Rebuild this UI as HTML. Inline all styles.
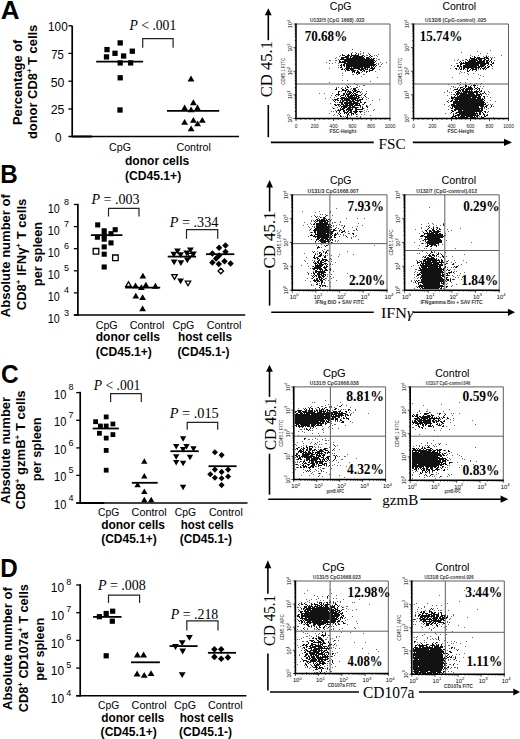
<!DOCTYPE html>
<html><head><meta charset="utf-8"><style>
html,body{margin:0;padding:0;background:#fff;}
svg{display:block;}
</style></head><body>
<svg width="520" height="739" viewBox="0 0 520 739">
<rect width="520" height="739" fill="#fff"/>
<path d="M351 53h1v1h-1zM356 53h1v1h-1zM342 54h1v1h-1zM348 54h1v1h-1zM351 54h1v1h-1zM355 54h1v1h-1zM358 54h1v1h-1zM369 54h1v1h-1zM342 55h3v1h-3zM347 55h3v1h-3zM351 55h8v1h-8zM362 55h2v1h-2zM370 55h1v1h-1zM345 56h4v1h-4zM350 56h2v1h-2zM353 56h10v1h-10zM364 56h1v1h-1zM369 56h1v1h-1zM371 56h1v1h-1zM474 56h1v1h-1zM486 56h1v1h-1zM341 57h8v1h-8zM350 57h1v1h-1zM352 57h12v1h-12zM366 57h3v1h-3zM370 57h1v1h-1zM470 57h1v1h-1zM474 57h2v1h-2zM477 57h3v1h-3zM484 57h4v1h-4zM341 58h3v1h-3zM346 58h19v1h-19zM366 58h4v1h-4zM371 58h1v1h-1zM373 58h2v1h-2zM470 58h5v1h-5zM476 58h9v1h-9zM486 58h3v1h-3zM491 58h1v1h-1zM340 59h34v1h-34zM466 59h1v1h-1zM469 59h1v1h-1zM471 59h6v1h-6zM478 59h4v1h-4zM484 59h2v1h-2zM488 59h1v1h-1zM491 59h1v1h-1zM339 60h1v1h-1zM344 60h31v1h-31zM467 60h1v1h-1zM469 60h9v1h-9zM479 60h3v1h-3zM483 60h2v1h-2zM486 60h3v1h-3zM490 60h1v1h-1zM339 61h2v1h-2zM342 61h32v1h-32zM375 61h1v1h-1zM460 61h1v1h-1zM465 61h1v1h-1zM468 61h8v1h-8zM477 61h8v1h-8zM486 61h2v1h-2zM489 61h1v1h-1zM491 61h1v1h-1zM339 62h7v1h-7zM347 62h28v1h-28zM459 62h1v1h-1zM461 62h1v1h-1zM463 62h1v1h-1zM465 62h20v1h-20zM486 62h3v1h-3zM491 62h1v1h-1zM493 62h1v1h-1zM344 63h30v1h-30zM460 63h29v1h-29zM492 63h2v1h-2zM341 64h1v1h-1zM343 64h2v1h-2zM346 64h30v1h-30zM460 64h2v1h-2zM465 64h14v1h-14zM480 64h6v1h-6zM488 64h1v1h-1zM490 64h2v1h-2zM340 65h2v1h-2zM343 65h2v1h-2zM346 65h29v1h-29zM376 65h1v1h-1zM457 65h2v1h-2zM460 65h1v1h-1zM463 65h16v1h-16zM480 65h5v1h-5zM487 65h1v1h-1zM491 65h1v1h-1zM341 66h1v1h-1zM344 66h1v1h-1zM346 66h24v1h-24zM371 66h1v1h-1zM373 66h1v1h-1zM375 66h1v1h-1zM457 66h2v1h-2zM460 66h2v1h-2zM463 66h14v1h-14zM478 66h6v1h-6zM485 66h1v1h-1zM488 66h2v1h-2zM340 67h2v1h-2zM346 67h4v1h-4zM351 67h1v1h-1zM353 67h10v1h-10zM364 67h6v1h-6zM371 67h2v1h-2zM374 67h1v1h-1zM459 67h1v1h-1zM461 67h1v1h-1zM463 67h17v1h-17zM481 67h1v1h-1zM484 67h2v1h-2zM487 67h2v1h-2zM342 68h1v1h-1zM345 68h15v1h-15zM361 68h5v1h-5zM367 68h1v1h-1zM370 68h5v1h-5zM455 68h2v1h-2zM459 68h1v1h-1zM461 68h1v1h-1zM463 68h2v1h-2zM467 68h2v1h-2zM471 68h3v1h-3zM475 68h2v1h-2zM478 68h1v1h-1zM480 68h1v1h-1zM482 68h3v1h-3zM486 68h1v1h-1zM341 69h2v1h-2zM344 69h1v1h-1zM346 69h3v1h-3zM350 69h4v1h-4zM358 69h6v1h-6zM365 69h3v1h-3zM369 69h1v1h-1zM372 69h2v1h-2zM456 69h1v1h-1zM460 69h2v1h-2zM463 69h1v1h-1zM467 69h1v1h-1zM470 69h1v1h-1zM472 69h5v1h-5zM483 69h1v1h-1zM485 69h1v1h-1zM345 70h1v1h-1zM347 70h3v1h-3zM351 70h5v1h-5zM357 70h1v1h-1zM360 70h2v1h-2zM363 70h2v1h-2zM369 70h4v1h-4zM467 70h1v1h-1zM469 70h1v1h-1zM472 70h1v1h-1zM476 70h1v1h-1zM352 71h3v1h-3zM357 71h2v1h-2zM362 71h1v1h-1zM364 71h1v1h-1zM366 71h2v1h-2zM369 71h1v1h-1zM467 71h2v1h-2zM352 72h1v1h-1zM354 72h1v1h-1zM356 72h4v1h-4zM366 72h1v1h-1zM356 73h1v1h-1zM358 73h2v1h-2zM357 74h1v1h-1zM465 84h1v1h-1zM474 84h1v1h-1zM465 85h2v1h-2zM473 85h3v1h-3zM347 86h1v1h-1zM465 86h2v1h-2zM468 86h1v1h-1zM470 86h1v1h-1zM474 86h1v1h-1zM347 87h2v1h-2zM356 87h1v1h-1zM460 87h3v1h-3zM465 87h1v1h-1zM468 87h4v1h-4zM474 87h1v1h-1zM477 87h1v1h-1zM336 88h1v1h-1zM341 88h1v1h-1zM345 88h1v1h-1zM353 88h3v1h-3zM457 88h1v1h-1zM460 88h1v1h-1zM463 88h2v1h-2zM466 88h7v1h-7zM475 88h2v1h-2zM478 88h2v1h-2zM335 89h2v1h-2zM342 89h2v1h-2zM346 89h2v1h-2zM353 89h3v1h-3zM454 89h4v1h-4zM459 89h1v1h-1zM461 89h3v1h-3zM465 89h8v1h-8zM477 89h1v1h-1zM479 89h1v1h-1zM342 90h5v1h-5zM348 90h1v1h-1zM352 90h1v1h-1zM354 90h3v1h-3zM458 90h3v1h-3zM462 90h2v1h-2zM465 90h3v1h-3zM469 90h1v1h-1zM471 90h1v1h-1zM476 90h1v1h-1zM479 90h1v1h-1zM481 90h1v1h-1zM338 91h2v1h-2zM345 91h1v1h-1zM347 91h4v1h-4zM353 91h3v1h-3zM357 91h3v1h-3zM456 91h3v1h-3zM460 91h1v1h-1zM462 91h11v1h-11zM474 91h5v1h-5zM480 91h2v1h-2zM338 92h1v1h-1zM345 92h1v1h-1zM347 92h1v1h-1zM349 92h3v1h-3zM353 92h1v1h-1zM356 92h2v1h-2zM360 92h1v1h-1zM455 92h1v1h-1zM457 92h3v1h-3zM461 92h1v1h-1zM463 92h15v1h-15zM479 92h1v1h-1zM484 92h1v1h-1zM338 93h1v1h-1zM343 93h2v1h-2zM346 93h1v1h-1zM348 93h3v1h-3zM352 93h1v1h-1zM354 93h2v1h-2zM456 93h11v1h-11zM468 93h6v1h-6zM476 93h2v1h-2zM480 93h1v1h-1zM482 93h2v1h-2zM485 93h1v1h-1zM336 94h4v1h-4zM343 94h2v1h-2zM346 94h4v1h-4zM351 94h1v1h-1zM353 94h1v1h-1zM355 94h3v1h-3zM361 94h1v1h-1zM365 94h1v1h-1zM454 94h1v1h-1zM456 94h3v1h-3zM460 94h15v1h-15zM476 94h6v1h-6zM335 95h1v1h-1zM338 95h1v1h-1zM341 95h3v1h-3zM345 95h1v1h-1zM347 95h2v1h-2zM350 95h7v1h-7zM358 95h3v1h-3zM364 95h1v1h-1zM455 95h1v1h-1zM457 95h1v1h-1zM459 95h21v1h-21zM481 95h1v1h-1zM340 96h1v1h-1zM345 96h1v1h-1zM347 96h6v1h-6zM354 96h1v1h-1zM356 96h3v1h-3zM365 96h1v1h-1zM451 96h1v1h-1zM454 96h1v1h-1zM457 96h20v1h-20zM478 96h3v1h-3zM483 96h2v1h-2zM341 97h4v1h-4zM346 97h1v1h-1zM348 97h9v1h-9zM358 97h2v1h-2zM451 97h20v1h-20zM472 97h9v1h-9zM484 97h1v1h-1zM337 98h2v1h-2zM340 98h19v1h-19zM362 98h1v1h-1zM451 98h3v1h-3zM455 98h21v1h-21zM477 98h4v1h-4zM482 98h1v1h-1zM484 98h1v1h-1zM334 99h4v1h-4zM341 99h2v1h-2zM344 99h6v1h-6zM351 99h5v1h-5zM357 99h1v1h-1zM359 99h4v1h-4zM452 99h1v1h-1zM454 99h30v1h-30zM333 100h1v1h-1zM335 100h1v1h-1zM337 100h2v1h-2zM340 100h1v1h-1zM342 100h9v1h-9zM352 100h2v1h-2zM355 100h6v1h-6zM451 100h2v1h-2zM455 100h3v1h-3zM459 100h24v1h-24zM484 100h1v1h-1zM334 101h1v1h-1zM340 101h1v1h-1zM342 101h2v1h-2zM346 101h2v1h-2zM349 101h6v1h-6zM357 101h2v1h-2zM360 101h1v1h-1zM447 101h1v1h-1zM450 101h2v1h-2zM453 101h31v1h-31zM339 102h4v1h-4zM344 102h8v1h-8zM353 102h5v1h-5zM360 102h2v1h-2zM364 102h2v1h-2zM453 102h32v1h-32zM341 103h2v1h-2zM344 103h16v1h-16zM364 103h1v1h-1zM453 103h31v1h-31zM485 103h1v1h-1zM334 104h2v1h-2zM337 104h3v1h-3zM341 104h3v1h-3zM345 104h3v1h-3zM349 104h5v1h-5zM355 104h3v1h-3zM359 104h1v1h-1zM363 104h1v1h-1zM451 104h4v1h-4zM456 104h30v1h-30zM335 105h2v1h-2zM338 105h1v1h-1zM340 105h1v1h-1zM343 105h10v1h-10zM354 105h7v1h-7zM366 105h1v1h-1zM451 105h33v1h-33zM486 105h2v1h-2zM491 105h1v1h-1zM339 106h1v1h-1zM341 106h7v1h-7zM349 106h2v1h-2zM352 106h3v1h-3zM360 106h1v1h-1zM366 106h2v1h-2zM452 106h27v1h-27zM480 106h4v1h-4zM485 106h2v1h-2zM491 106h1v1h-1zM341 107h1v1h-1zM343 107h4v1h-4zM348 107h10v1h-10zM362 107h1v1h-1zM367 107h1v1h-1zM452 107h1v1h-1zM454 107h25v1h-25zM481 107h2v1h-2zM484 107h1v1h-1zM486 107h1v1h-1zM333 108h1v1h-1zM340 108h1v1h-1zM342 108h3v1h-3zM347 108h4v1h-4zM352 108h1v1h-1zM355 108h2v1h-2zM362 108h2v1h-2zM451 108h2v1h-2zM455 108h28v1h-28zM338 109h1v1h-1zM340 109h4v1h-4zM346 109h7v1h-7zM355 109h8v1h-8zM454 109h26v1h-26zM481 109h2v1h-2zM337 110h4v1h-4zM343 110h2v1h-2zM346 110h1v1h-1zM348 110h4v1h-4zM355 110h2v1h-2zM451 110h2v1h-2zM454 110h2v1h-2zM458 110h4v1h-4zM463 110h20v1h-20zM336 111h1v1h-1zM339 111h1v1h-1zM343 111h2v1h-2zM347 111h2v1h-2zM350 111h2v1h-2zM353 111h5v1h-5zM359 111h3v1h-3zM452 111h2v1h-2zM458 111h24v1h-24zM484 111h2v1h-2zM339 112h1v1h-1zM344 112h4v1h-4zM349 112h3v1h-3zM354 112h3v1h-3zM360 112h1v1h-1zM451 112h1v1h-1zM456 112h19v1h-19zM476 112h1v1h-1zM479 112h2v1h-2zM482 112h1v1h-1zM485 112h1v1h-1zM338 113h1v1h-1zM340 113h1v1h-1zM344 113h1v1h-1zM346 113h1v1h-1zM348 113h1v1h-1zM351 113h3v1h-3zM355 113h1v1h-1zM455 113h2v1h-2zM459 113h19v1h-19zM479 113h2v1h-2zM483 113h1v1h-1zM339 114h1v1h-1zM347 114h2v1h-2zM351 114h1v1h-1zM353 114h1v1h-1zM356 114h1v1h-1zM453 114h1v1h-1zM457 114h19v1h-19zM477 114h1v1h-1zM479 114h2v1h-2zM483 114h2v1h-2zM487 114h1v1h-1zM340 115h1v1h-1zM347 115h1v1h-1zM453 115h1v1h-1zM455 115h5v1h-5zM461 115h18v1h-18zM484 115h1v1h-1zM486 115h2v1h-2zM340 116h2v1h-2zM347 116h1v1h-1zM452 116h4v1h-4zM458 116h1v1h-1zM460 116h5v1h-5zM466 116h7v1h-7zM474 116h1v1h-1zM476 116h2v1h-2zM481 116h1v1h-1zM484 116h2v1h-2zM346 117h2v1h-2zM451 117h2v1h-2zM455 117h2v1h-2zM458 117h10v1h-10zM470 117h6v1h-6zM477 117h1v1h-1zM481 117h3v1h-3zM326 215h1v1h-1zM315 216h1v1h-1zM325 216h1v1h-1zM316 217h1v1h-1zM320 217h1v1h-1zM323 217h2v1h-2zM318 218h1v1h-1zM323 218h3v1h-3zM316 219h2v1h-2zM319 219h1v1h-1zM321 219h4v1h-4zM326 219h1v1h-1zM328 219h2v1h-2zM315 220h1v1h-1zM317 220h11v1h-11zM330 220h1v1h-1zM314 221h1v1h-1zM316 221h2v1h-2zM319 221h7v1h-7zM327 221h2v1h-2zM315 222h1v1h-1zM319 222h4v1h-4zM324 222h4v1h-4zM314 223h1v1h-1zM316 223h12v1h-12zM329 223h1v1h-1zM313 224h2v1h-2zM316 224h15v1h-15zM443 224h1v1h-1zM316 225h11v1h-11zM328 225h2v1h-2zM331 225h1v1h-1zM316 226h15v1h-15zM344 226h1v1h-1zM428 226h1v1h-1zM314 227h1v1h-1zM316 227h16v1h-16zM343 227h1v1h-1zM429 227h1v1h-1zM433 227h1v1h-1zM436 227h2v1h-2zM315 228h15v1h-15zM335 228h1v1h-1zM428 228h1v1h-1zM433 228h1v1h-1zM437 228h1v1h-1zM439 228h1v1h-1zM310 229h1v1h-1zM314 229h18v1h-18zM333 229h2v1h-2zM340 229h1v1h-1zM356 229h1v1h-1zM427 229h1v1h-1zM432 229h2v1h-2zM436 229h1v1h-1zM439 229h2v1h-2zM313 230h18v1h-18zM333 230h3v1h-3zM339 230h1v1h-1zM341 230h1v1h-1zM344 230h1v1h-1zM425 230h2v1h-2zM429 230h2v1h-2zM432 230h3v1h-3zM437 230h2v1h-2zM314 231h2v1h-2zM317 231h17v1h-17zM342 231h3v1h-3zM426 231h1v1h-1zM429 231h3v1h-3zM433 231h7v1h-7zM311 232h1v1h-1zM314 232h2v1h-2zM317 232h16v1h-16zM341 232h2v1h-2zM423 232h1v1h-1zM427 232h1v1h-1zM429 232h1v1h-1zM431 232h8v1h-8zM315 233h1v1h-1zM317 233h9v1h-9zM327 233h6v1h-6zM335 233h1v1h-1zM337 233h1v1h-1zM352 233h2v1h-2zM424 233h10v1h-10zM435 233h3v1h-3zM439 233h2v1h-2zM311 234h1v1h-1zM315 234h14v1h-14zM330 234h2v1h-2zM334 234h3v1h-3zM353 234h1v1h-1zM424 234h1v1h-1zM427 234h16v1h-16zM310 235h3v1h-3zM314 235h1v1h-1zM317 235h14v1h-14zM332 235h1v1h-1zM334 235h2v1h-2zM421 235h3v1h-3zM427 235h16v1h-16zM444 235h1v1h-1zM313 236h16v1h-16zM330 236h2v1h-2zM334 236h1v1h-1zM346 236h1v1h-1zM420 236h3v1h-3zM424 236h20v1h-20zM315 237h1v1h-1zM317 237h15v1h-15zM334 237h2v1h-2zM425 237h18v1h-18zM317 238h3v1h-3zM321 238h7v1h-7zM329 238h2v1h-2zM425 238h1v1h-1zM427 238h13v1h-13zM316 239h3v1h-3zM320 239h4v1h-4zM325 239h5v1h-5zM331 239h2v1h-2zM424 239h17v1h-17zM316 240h1v1h-1zM319 240h7v1h-7zM327 240h2v1h-2zM330 240h1v1h-1zM332 240h1v1h-1zM423 240h1v1h-1zM425 240h1v1h-1zM428 240h14v1h-14zM315 241h1v1h-1zM320 241h10v1h-10zM425 241h1v1h-1zM427 241h15v1h-15zM321 242h5v1h-5zM328 242h1v1h-1zM331 242h1v1h-1zM426 242h16v1h-16zM320 243h1v1h-1zM325 243h1v1h-1zM422 243h1v1h-1zM427 243h12v1h-12zM427 244h1v1h-1zM429 244h7v1h-7zM438 244h1v1h-1zM326 245h2v1h-2zM427 245h2v1h-2zM431 245h2v1h-2zM434 245h3v1h-3zM318 246h1v1h-1zM325 246h1v1h-1zM426 246h2v1h-2zM430 246h2v1h-2zM436 246h1v1h-1zM317 247h3v1h-3zM317 248h1v1h-1zM327 250h1v1h-1zM323 251h1v1h-1zM326 251h1v1h-1zM431 251h1v1h-1zM313 252h1v1h-1zM319 252h2v1h-2zM325 252h2v1h-2zM431 252h2v1h-2zM319 253h1v1h-1zM321 253h1v1h-1zM325 253h1v1h-1zM430 253h1v1h-1zM438 253h1v1h-1zM315 254h1v1h-1zM320 254h2v1h-2zM429 254h1v1h-1zM432 254h2v1h-2zM437 254h2v1h-2zM441 254h1v1h-1zM314 255h1v1h-1zM319 255h3v1h-3zM325 255h1v1h-1zM428 255h3v1h-3zM432 255h3v1h-3zM436 255h1v1h-1zM442 255h1v1h-1zM314 256h1v1h-1zM318 256h3v1h-3zM324 256h2v1h-2zM423 256h1v1h-1zM425 256h1v1h-1zM429 256h3v1h-3zM434 256h1v1h-1zM442 256h2v1h-2zM313 257h2v1h-2zM316 257h2v1h-2zM324 257h2v1h-2zM424 257h2v1h-2zM427 257h2v1h-2zM431 257h3v1h-3zM443 257h1v1h-1zM314 258h2v1h-2zM317 258h2v1h-2zM322 258h1v1h-1zM330 258h1v1h-1zM426 258h9v1h-9zM436 258h1v1h-1zM317 259h1v1h-1zM319 259h1v1h-1zM322 259h5v1h-5zM424 259h13v1h-13zM438 259h1v1h-1zM441 259h1v1h-1zM318 260h2v1h-2zM321 260h3v1h-3zM325 260h3v1h-3zM423 260h3v1h-3zM427 260h13v1h-13zM441 260h2v1h-2zM314 261h1v1h-1zM317 261h2v1h-2zM320 261h2v1h-2zM324 261h2v1h-2zM417 261h1v1h-1zM420 261h2v1h-2zM423 261h8v1h-8zM432 261h5v1h-5zM439 261h1v1h-1zM441 261h2v1h-2zM447 261h1v1h-1zM313 262h1v1h-1zM315 262h1v1h-1zM317 262h2v1h-2zM320 262h4v1h-4zM417 262h3v1h-3zM421 262h1v1h-1zM423 262h1v1h-1zM425 262h19v1h-19zM314 263h3v1h-3zM318 263h4v1h-4zM324 263h3v1h-3zM417 263h1v1h-1zM421 263h11v1h-11zM433 263h6v1h-6zM441 263h1v1h-1zM446 263h1v1h-1zM453 263h1v1h-1zM315 264h1v1h-1zM317 264h1v1h-1zM319 264h5v1h-5zM325 264h1v1h-1zM327 264h1v1h-1zM330 264h1v1h-1zM420 264h1v1h-1zM422 264h2v1h-2zM425 264h18v1h-18zM445 264h1v1h-1zM452 264h2v1h-2zM315 265h8v1h-8zM326 265h1v1h-1zM420 265h18v1h-18zM439 265h4v1h-4zM313 266h1v1h-1zM315 266h7v1h-7zM324 266h1v1h-1zM326 266h2v1h-2zM421 266h20v1h-20zM445 266h1v1h-1zM454 266h1v1h-1zM456 266h2v1h-2zM314 267h7v1h-7zM323 267h4v1h-4zM419 267h1v1h-1zM421 267h6v1h-6zM428 267h10v1h-10zM439 267h2v1h-2zM444 267h2v1h-2zM455 267h2v1h-2zM312 268h10v1h-10zM324 268h2v1h-2zM330 268h1v1h-1zM419 268h2v1h-2zM422 268h20v1h-20zM443 268h2v1h-2zM313 269h2v1h-2zM317 269h1v1h-1zM319 269h4v1h-4zM325 269h2v1h-2zM329 269h2v1h-2zM420 269h24v1h-24zM447 269h1v1h-1zM315 270h2v1h-2zM320 270h1v1h-1zM322 270h1v1h-1zM324 270h4v1h-4zM330 270h1v1h-1zM419 270h23v1h-23zM443 270h1v1h-1zM448 270h2v1h-2zM315 271h10v1h-10zM421 271h22v1h-22zM451 271h1v1h-1zM313 272h1v1h-1zM315 272h2v1h-2zM318 272h8v1h-8zM420 272h24v1h-24zM448 272h4v1h-4zM453 272h1v1h-1zM308 273h1v1h-1zM313 273h2v1h-2zM317 273h3v1h-3zM321 273h3v1h-3zM419 273h1v1h-1zM421 273h20v1h-20zM442 273h1v1h-1zM446 273h2v1h-2zM449 273h1v1h-1zM314 274h1v1h-1zM317 274h5v1h-5zM323 274h3v1h-3zM417 274h4v1h-4zM422 274h19v1h-19zM442 274h3v1h-3zM447 274h1v1h-1zM313 275h1v1h-1zM315 275h2v1h-2zM318 275h2v1h-2zM321 275h3v1h-3zM325 275h1v1h-1zM417 275h2v1h-2zM421 275h23v1h-23zM446 275h3v1h-3zM312 276h1v1h-1zM314 276h1v1h-1zM316 276h1v1h-1zM318 276h3v1h-3zM322 276h3v1h-3zM421 276h20v1h-20zM442 276h3v1h-3zM313 277h1v1h-1zM318 277h4v1h-4zM323 277h1v1h-1zM420 277h22v1h-22zM444 277h1v1h-1zM446 277h2v1h-2zM312 278h1v1h-1zM316 278h2v1h-2zM319 278h1v1h-1zM321 278h2v1h-2zM325 278h1v1h-1zM420 278h1v1h-1zM422 278h21v1h-21zM446 278h1v1h-1zM314 279h1v1h-1zM316 279h2v1h-2zM319 279h3v1h-3zM323 279h2v1h-2zM421 279h24v1h-24zM446 279h3v1h-3zM450 279h1v1h-1zM453 279h1v1h-1zM313 280h6v1h-6zM320 280h3v1h-3zM416 280h1v1h-1zM418 280h1v1h-1zM421 280h23v1h-23zM445 280h1v1h-1zM447 280h2v1h-2zM450 280h1v1h-1zM314 281h2v1h-2zM317 281h3v1h-3zM321 281h2v1h-2zM415 281h1v1h-1zM417 281h1v1h-1zM421 281h24v1h-24zM446 281h1v1h-1zM450 281h1v1h-1zM316 282h1v1h-1zM321 282h2v1h-2zM415 282h1v1h-1zM418 282h22v1h-22zM441 282h1v1h-1zM443 282h2v1h-2zM317 283h1v1h-1zM321 283h1v1h-1zM418 283h1v1h-1zM422 283h18v1h-18zM441 283h4v1h-4zM316 284h2v1h-2zM321 284h1v1h-1zM418 284h1v1h-1zM420 284h1v1h-1zM423 284h17v1h-17zM443 284h1v1h-1zM319 285h2v1h-2zM322 285h4v1h-4zM419 285h24v1h-24zM320 286h1v1h-1zM322 286h1v1h-1zM325 286h1v1h-1zM418 286h26v1h-26zM446 286h2v1h-2zM319 287h1v1h-1zM417 287h1v1h-1zM419 287h1v1h-1zM421 287h2v1h-2zM424 287h16v1h-16zM441 287h1v1h-1zM446 287h1v1h-1zM420 288h1v1h-1zM422 288h17v1h-17zM440 288h2v1h-2zM341 405h1v1h-1zM340 406h1v1h-1zM310 407h1v1h-1zM318 407h1v1h-1zM325 407h1v1h-1zM305 408h1v1h-1zM309 408h1v1h-1zM311 408h2v1h-2zM319 408h1v1h-1zM322 408h1v1h-1zM324 408h1v1h-1zM335 408h2v1h-2zM304 409h1v1h-1zM306 409h1v1h-1zM309 409h1v1h-1zM312 409h1v1h-1zM316 409h1v1h-1zM319 409h1v1h-1zM321 409h3v1h-3zM326 409h2v1h-2zM334 409h2v1h-2zM348 409h2v1h-2zM297 410h5v1h-5zM305 410h2v1h-2zM308 410h5v1h-5zM314 410h1v1h-1zM316 410h2v1h-2zM319 410h3v1h-3zM323 410h1v1h-1zM325 410h1v1h-1zM327 410h3v1h-3zM340 410h1v1h-1zM348 410h1v1h-1zM295 411h2v1h-2zM298 411h3v1h-3zM302 411h5v1h-5zM308 411h5v1h-5zM314 411h2v1h-2zM317 411h1v1h-1zM319 411h7v1h-7zM327 411h1v1h-1zM329 411h2v1h-2zM333 411h4v1h-4zM338 411h3v1h-3zM345 411h2v1h-2zM295 412h1v1h-1zM298 412h4v1h-4zM303 412h12v1h-12zM317 412h5v1h-5zM323 412h2v1h-2zM326 412h12v1h-12zM339 412h1v1h-1zM341 412h2v1h-2zM346 412h1v1h-1zM429 412h1v1h-1zM296 413h2v1h-2zM300 413h3v1h-3zM304 413h1v1h-1zM306 413h27v1h-27zM334 413h12v1h-12zM424 413h5v1h-5zM439 413h2v1h-2zM295 414h15v1h-15zM311 414h26v1h-26zM338 414h5v1h-5zM345 414h3v1h-3zM350 414h1v1h-1zM413 414h1v1h-1zM416 414h2v1h-2zM424 414h3v1h-3zM431 414h1v1h-1zM439 414h1v1h-1zM445 414h1v1h-1zM295 415h29v1h-29zM325 415h7v1h-7zM333 415h1v1h-1zM335 415h9v1h-9zM345 415h1v1h-1zM347 415h2v1h-2zM412 415h1v1h-1zM414 415h1v1h-1zM416 415h2v1h-2zM423 415h1v1h-1zM427 415h3v1h-3zM431 415h3v1h-3zM444 415h1v1h-1zM295 416h45v1h-45zM341 416h1v1h-1zM345 416h1v1h-1zM412 416h2v1h-2zM415 416h3v1h-3zM419 416h2v1h-2zM422 416h9v1h-9zM432 416h1v1h-1zM443 416h1v1h-1zM295 417h35v1h-35zM332 417h4v1h-4zM338 417h2v1h-2zM343 417h1v1h-1zM346 417h1v1h-1zM417 417h2v1h-2zM420 417h10v1h-10zM431 417h2v1h-2zM434 417h1v1h-1zM436 417h1v1h-1zM439 417h1v1h-1zM443 417h2v1h-2zM447 417h1v1h-1zM295 418h39v1h-39zM335 418h3v1h-3zM343 418h2v1h-2zM346 418h3v1h-3zM414 418h6v1h-6zM421 418h7v1h-7zM429 418h11v1h-11zM442 418h1v1h-1zM447 418h2v1h-2zM295 419h29v1h-29zM325 419h1v1h-1zM327 419h3v1h-3zM331 419h3v1h-3zM335 419h3v1h-3zM340 419h1v1h-1zM348 419h1v1h-1zM415 419h3v1h-3zM419 419h3v1h-3zM423 419h3v1h-3zM427 419h4v1h-4zM433 419h2v1h-2zM438 419h1v1h-1zM440 419h1v1h-1zM295 420h30v1h-30zM326 420h1v1h-1zM328 420h2v1h-2zM335 420h1v1h-1zM337 420h1v1h-1zM340 420h2v1h-2zM414 420h2v1h-2zM417 420h14v1h-14zM432 420h2v1h-2zM435 420h2v1h-2zM438 420h2v1h-2zM444 420h1v1h-1zM295 421h24v1h-24zM320 421h5v1h-5zM326 421h3v1h-3zM342 421h2v1h-2zM412 421h1v1h-1zM414 421h3v1h-3zM418 421h4v1h-4zM423 421h8v1h-8zM432 421h3v1h-3zM436 421h3v1h-3zM440 421h2v1h-2zM443 421h2v1h-2zM295 422h26v1h-26zM322 422h2v1h-2zM325 422h1v1h-1zM327 422h3v1h-3zM341 422h3v1h-3zM412 422h6v1h-6zM419 422h12v1h-12zM433 422h2v1h-2zM436 422h1v1h-1zM441 422h2v1h-2zM295 423h29v1h-29zM325 423h2v1h-2zM413 423h1v1h-1zM415 423h8v1h-8zM424 423h8v1h-8zM437 423h1v1h-1zM442 423h2v1h-2zM296 424h3v1h-3zM300 424h10v1h-10zM311 424h5v1h-5zM317 424h2v1h-2zM320 424h2v1h-2zM325 424h1v1h-1zM417 424h2v1h-2zM420 424h1v1h-1zM422 424h2v1h-2zM425 424h2v1h-2zM430 424h1v1h-1zM436 424h2v1h-2zM439 424h1v1h-1zM441 424h1v1h-1zM295 425h2v1h-2zM298 425h2v1h-2zM301 425h9v1h-9zM311 425h4v1h-4zM316 425h6v1h-6zM416 425h1v1h-1zM418 425h1v1h-1zM422 425h2v1h-2zM425 425h1v1h-1zM428 425h3v1h-3zM432 425h1v1h-1zM438 425h3v1h-3zM443 425h1v1h-1zM296 426h1v1h-1zM298 426h6v1h-6zM305 426h1v1h-1zM307 426h3v1h-3zM311 426h3v1h-3zM315 426h1v1h-1zM418 426h2v1h-2zM423 426h1v1h-1zM428 426h4v1h-4zM433 426h1v1h-1zM442 426h2v1h-2zM299 427h1v1h-1zM302 427h1v1h-1zM310 427h1v1h-1zM313 427h1v1h-1zM419 427h1v1h-1zM421 427h2v1h-2zM306 428h1v1h-1zM310 428h1v1h-1zM422 428h1v1h-1zM306 429h2v1h-2zM309 429h1v1h-1zM322 429h1v1h-1zM308 430h1v1h-1zM304 438h2v1h-2zM304 439h1v1h-1zM315 443h1v1h-1zM439 444h1v1h-1zM334 445h1v1h-1zM306 446h1v1h-1zM309 446h4v1h-4zM428 446h1v1h-1zM298 447h1v1h-1zM303 447h1v1h-1zM306 447h2v1h-2zM309 447h1v1h-1zM312 447h1v1h-1zM422 447h1v1h-1zM424 447h1v1h-1zM427 447h3v1h-3zM296 448h2v1h-2zM301 448h1v1h-1zM303 448h2v1h-2zM307 448h1v1h-1zM309 448h3v1h-3zM324 448h3v1h-3zM412 448h3v1h-3zM416 448h1v1h-1zM418 448h1v1h-1zM421 448h2v1h-2zM424 448h2v1h-2zM430 448h2v1h-2zM297 449h1v1h-1zM300 449h1v1h-1zM302 449h2v1h-2zM306 449h2v1h-2zM309 449h3v1h-3zM314 449h2v1h-2zM320 449h2v1h-2zM323 449h3v1h-3zM333 449h1v1h-1zM413 449h3v1h-3zM417 449h1v1h-1zM419 449h2v1h-2zM423 449h1v1h-1zM426 449h5v1h-5zM432 449h1v1h-1zM436 449h2v1h-2zM439 449h3v1h-3zM299 450h3v1h-3zM303 450h1v1h-1zM306 450h2v1h-2zM309 450h2v1h-2zM312 450h3v1h-3zM316 450h1v1h-1zM319 450h4v1h-4zM325 450h3v1h-3zM412 450h15v1h-15zM428 450h4v1h-4zM433 450h3v1h-3zM437 450h4v1h-4zM444 450h1v1h-1zM448 450h1v1h-1zM298 451h6v1h-6zM305 451h1v1h-1zM308 451h2v1h-2zM312 451h1v1h-1zM317 451h7v1h-7zM328 451h1v1h-1zM412 451h1v1h-1zM415 451h2v1h-2zM418 451h13v1h-13zM432 451h3v1h-3zM437 451h1v1h-1zM439 451h1v1h-1zM448 451h2v1h-2zM298 452h1v1h-1zM300 452h2v1h-2zM303 452h4v1h-4zM308 452h3v1h-3zM312 452h2v1h-2zM315 452h5v1h-5zM321 452h1v1h-1zM324 452h2v1h-2zM327 452h3v1h-3zM412 452h7v1h-7zM420 452h18v1h-18zM439 452h2v1h-2zM296 453h2v1h-2zM302 453h2v1h-2zM305 453h8v1h-8zM315 453h1v1h-1zM317 453h6v1h-6zM325 453h1v1h-1zM327 453h1v1h-1zM412 453h28v1h-28zM442 453h1v1h-1zM444 453h2v1h-2zM296 454h2v1h-2zM302 454h8v1h-8zM311 454h4v1h-4zM316 454h2v1h-2zM319 454h1v1h-1zM321 454h1v1h-1zM323 454h2v1h-2zM412 454h29v1h-29zM442 454h2v1h-2zM295 455h2v1h-2zM298 455h2v1h-2zM302 455h7v1h-7zM310 455h3v1h-3zM316 455h5v1h-5zM322 455h3v1h-3zM334 455h1v1h-1zM336 455h1v1h-1zM412 455h30v1h-30zM443 455h2v1h-2zM296 456h2v1h-2zM299 456h1v1h-1zM301 456h14v1h-14zM316 456h1v1h-1zM318 456h3v1h-3zM323 456h1v1h-1zM327 456h3v1h-3zM335 456h1v1h-1zM412 456h26v1h-26zM440 456h2v1h-2zM297 457h1v1h-1zM299 457h2v1h-2zM302 457h1v1h-1zM304 457h8v1h-8zM313 457h6v1h-6zM321 457h3v1h-3zM326 457h3v1h-3zM335 457h1v1h-1zM412 457h28v1h-28zM442 457h1v1h-1zM298 458h3v1h-3zM306 458h4v1h-4zM311 458h9v1h-9zM323 458h1v1h-1zM325 458h1v1h-1zM327 458h2v1h-2zM335 458h1v1h-1zM412 458h34v1h-34zM297 459h2v1h-2zM300 459h2v1h-2zM306 459h4v1h-4zM311 459h7v1h-7zM319 459h2v1h-2zM322 459h3v1h-3zM326 459h1v1h-1zM328 459h1v1h-1zM334 459h1v1h-1zM412 459h26v1h-26zM439 459h5v1h-5zM445 459h2v1h-2zM304 460h1v1h-1zM306 460h2v1h-2zM309 460h8v1h-8zM320 460h1v1h-1zM322 460h1v1h-1zM324 460h1v1h-1zM327 460h1v1h-1zM329 460h1v1h-1zM333 460h1v1h-1zM412 460h29v1h-29zM442 460h4v1h-4zM447 460h1v1h-1zM300 461h1v1h-1zM303 461h2v1h-2zM309 461h1v1h-1zM311 461h3v1h-3zM315 461h9v1h-9zM325 461h2v1h-2zM412 461h29v1h-29zM442 461h4v1h-4zM303 462h1v1h-1zM305 462h1v1h-1zM308 462h2v1h-2zM311 462h3v1h-3zM315 462h3v1h-3zM319 462h4v1h-4zM412 462h31v1h-31zM445 462h1v1h-1zM449 462h3v1h-3zM302 463h1v1h-1zM304 463h3v1h-3zM310 463h5v1h-5zM316 463h2v1h-2zM319 463h4v1h-4zM324 463h3v1h-3zM412 463h28v1h-28zM441 463h1v1h-1zM443 463h3v1h-3zM449 463h1v1h-1zM296 464h2v1h-2zM303 464h1v1h-1zM307 464h3v1h-3zM312 464h3v1h-3zM316 464h1v1h-1zM318 464h1v1h-1zM322 464h3v1h-3zM326 464h1v1h-1zM412 464h5v1h-5zM418 464h26v1h-26zM445 464h2v1h-2zM302 465h2v1h-2zM305 465h1v1h-1zM308 465h1v1h-1zM311 465h4v1h-4zM318 465h4v1h-4zM324 465h1v1h-1zM326 465h1v1h-1zM329 465h1v1h-1zM412 465h27v1h-27zM440 465h2v1h-2zM300 466h1v1h-1zM303 466h4v1h-4zM310 466h4v1h-4zM315 466h1v1h-1zM318 466h1v1h-1zM412 466h12v1h-12zM425 466h12v1h-12zM438 466h1v1h-1zM442 466h2v1h-2zM297 467h1v1h-1zM300 467h2v1h-2zM303 467h2v1h-2zM306 467h1v1h-1zM308 467h3v1h-3zM312 467h2v1h-2zM412 467h2v1h-2zM415 467h3v1h-3zM419 467h3v1h-3zM423 467h1v1h-1zM426 467h3v1h-3zM430 467h3v1h-3zM434 467h2v1h-2zM437 467h2v1h-2zM442 467h1v1h-1zM309 468h1v1h-1zM323 468h1v1h-1zM412 468h2v1h-2zM415 468h2v1h-2zM418 468h1v1h-1zM420 468h1v1h-1zM422 468h3v1h-3zM426 468h2v1h-2zM430 468h3v1h-3zM436 468h2v1h-2zM441 468h1v1h-1zM310 469h1v1h-1zM414 469h3v1h-3zM421 469h1v1h-1zM423 469h2v1h-2zM426 469h4v1h-4zM431 469h2v1h-2zM435 469h4v1h-4zM444 469h1v1h-1zM307 470h1v1h-1zM309 470h1v1h-1zM321 470h1v1h-1zM416 470h1v1h-1zM422 470h3v1h-3zM426 470h1v1h-1zM428 470h2v1h-2zM432 470h3v1h-3zM437 470h1v1h-1zM443 470h2v1h-2zM306 471h1v1h-1zM308 471h1v1h-1zM422 471h1v1h-1zM425 471h1v1h-1zM427 471h1v1h-1zM429 471h1v1h-1zM432 471h1v1h-1zM420 472h1v1h-1zM422 472h1v1h-1zM425 472h2v1h-2zM429 472h1v1h-1zM319 473h1v1h-1zM420 473h2v1h-2zM425 474h1v1h-1zM431 474h2v1h-2zM426 475h1v1h-1zM430 475h1v1h-1zM440 476h1v1h-1zM327 596h1v1h-1zM327 597h1v1h-1zM330 601h1v1h-1zM319 602h3v1h-3zM326 602h2v1h-2zM329 602h2v1h-2zM333 602h1v1h-1zM301 603h1v1h-1zM304 603h1v1h-1zM311 603h1v1h-1zM314 603h1v1h-1zM319 603h1v1h-1zM321 603h1v1h-1zM323 603h1v1h-1zM327 603h1v1h-1zM335 603h1v1h-1zM298 604h1v1h-1zM301 604h2v1h-2zM305 604h2v1h-2zM311 604h2v1h-2zM314 604h4v1h-4zM320 604h2v1h-2zM323 604h1v1h-1zM325 604h5v1h-5zM335 604h2v1h-2zM307 605h1v1h-1zM309 605h1v1h-1zM311 605h1v1h-1zM315 605h1v1h-1zM317 605h3v1h-3zM321 605h2v1h-2zM324 605h4v1h-4zM330 605h1v1h-1zM332 605h1v1h-1zM334 605h1v1h-1zM337 605h1v1h-1zM304 606h3v1h-3zM308 606h5v1h-5zM314 606h4v1h-4zM319 606h3v1h-3zM323 606h1v1h-1zM325 606h3v1h-3zM330 606h5v1h-5zM338 606h1v1h-1zM304 607h3v1h-3zM308 607h3v1h-3zM312 607h3v1h-3zM316 607h13v1h-13zM330 607h5v1h-5zM337 607h1v1h-1zM342 607h1v1h-1zM301 608h1v1h-1zM303 608h2v1h-2zM306 608h26v1h-26zM334 608h2v1h-2zM337 608h1v1h-1zM431 608h1v1h-1zM303 609h1v1h-1zM305 609h6v1h-6zM312 609h22v1h-22zM335 609h3v1h-3zM342 609h1v1h-1zM430 609h1v1h-1zM432 609h1v1h-1zM299 610h1v1h-1zM304 610h2v1h-2zM307 610h21v1h-21zM329 610h7v1h-7zM337 610h3v1h-3zM341 610h1v1h-1zM429 610h1v1h-1zM300 611h3v1h-3zM304 611h5v1h-5zM310 611h19v1h-19zM330 611h4v1h-4zM335 611h3v1h-3zM339 611h2v1h-2zM421 611h1v1h-1zM423 611h2v1h-2zM429 611h3v1h-3zM300 612h2v1h-2zM305 612h32v1h-32zM338 612h2v1h-2zM342 612h1v1h-1zM420 612h2v1h-2zM423 612h2v1h-2zM429 612h1v1h-1zM431 612h2v1h-2zM434 612h2v1h-2zM440 612h2v1h-2zM301 613h38v1h-38zM340 613h3v1h-3zM422 613h2v1h-2zM425 613h3v1h-3zM431 613h4v1h-4zM438 613h1v1h-1zM441 613h1v1h-1zM298 614h2v1h-2zM301 614h2v1h-2zM304 614h29v1h-29zM334 614h6v1h-6zM341 614h1v1h-1zM419 614h2v1h-2zM422 614h1v1h-1zM426 614h1v1h-1zM428 614h4v1h-4zM433 614h6v1h-6zM441 614h1v1h-1zM445 614h1v1h-1zM297 615h2v1h-2zM301 615h39v1h-39zM342 615h2v1h-2zM415 615h1v1h-1zM418 615h2v1h-2zM421 615h9v1h-9zM431 615h4v1h-4zM436 615h3v1h-3zM441 615h5v1h-5zM297 616h3v1h-3zM301 616h38v1h-38zM341 616h1v1h-1zM343 616h1v1h-1zM418 616h1v1h-1zM420 616h15v1h-15zM436 616h3v1h-3zM440 616h3v1h-3zM444 616h2v1h-2zM447 616h1v1h-1zM299 617h1v1h-1zM301 617h2v1h-2zM305 617h30v1h-30zM336 617h2v1h-2zM340 617h3v1h-3zM420 617h3v1h-3zM424 617h2v1h-2zM427 617h2v1h-2zM431 617h1v1h-1zM433 617h5v1h-5zM439 617h2v1h-2zM442 617h3v1h-3zM446 617h2v1h-2zM300 618h7v1h-7zM308 618h29v1h-29zM338 618h1v1h-1zM340 618h1v1h-1zM342 618h1v1h-1zM419 618h2v1h-2zM422 618h3v1h-3zM426 618h2v1h-2zM429 618h2v1h-2zM432 618h6v1h-6zM439 618h8v1h-8zM302 619h1v1h-1zM304 619h34v1h-34zM340 619h1v1h-1zM414 619h1v1h-1zM420 619h12v1h-12zM433 619h4v1h-4zM438 619h1v1h-1zM440 619h4v1h-4zM298 620h1v1h-1zM300 620h2v1h-2zM303 620h1v1h-1zM305 620h17v1h-17zM323 620h5v1h-5zM330 620h6v1h-6zM338 620h2v1h-2zM420 620h2v1h-2zM423 620h3v1h-3zM429 620h1v1h-1zM431 620h11v1h-11zM443 620h2v1h-2zM299 621h1v1h-1zM301 621h2v1h-2zM304 621h1v1h-1zM307 621h4v1h-4zM312 621h24v1h-24zM337 621h3v1h-3zM342 621h1v1h-1zM422 621h10v1h-10zM433 621h8v1h-8zM301 622h2v1h-2zM304 622h1v1h-1zM306 622h29v1h-29zM337 622h1v1h-1zM343 622h1v1h-1zM423 622h1v1h-1zM426 622h1v1h-1zM429 622h2v1h-2zM432 622h2v1h-2zM435 622h1v1h-1zM438 622h6v1h-6zM301 623h1v1h-1zM305 623h1v1h-1zM307 623h1v1h-1zM309 623h2v1h-2zM313 623h13v1h-13zM327 623h1v1h-1zM330 623h1v1h-1zM333 623h1v1h-1zM335 623h1v1h-1zM338 623h1v1h-1zM343 623h2v1h-2zM424 623h1v1h-1zM426 623h4v1h-4zM431 623h2v1h-2zM434 623h2v1h-2zM437 623h1v1h-1zM443 623h2v1h-2zM304 624h1v1h-1zM306 624h3v1h-3zM313 624h3v1h-3zM317 624h7v1h-7zM326 624h5v1h-5zM335 624h1v1h-1zM338 624h2v1h-2zM426 624h3v1h-3zM430 624h2v1h-2zM436 624h1v1h-1zM307 625h2v1h-2zM313 625h2v1h-2zM318 625h3v1h-3zM325 625h1v1h-1zM330 625h1v1h-1zM426 625h3v1h-3zM436 625h2v1h-2zM308 626h2v1h-2zM311 626h1v1h-1zM314 626h1v1h-1zM319 626h1v1h-1zM324 626h1v1h-1zM329 626h1v1h-1zM437 626h1v1h-1zM316 627h1v1h-1zM319 627h2v1h-2zM323 627h2v1h-2zM328 627h1v1h-1zM303 628h1v1h-1zM317 628h1v1h-1zM323 628h1v1h-1zM318 629h1v1h-1zM322 632h1v1h-1zM325 633h1v1h-1zM322 634h1v1h-1zM325 634h1v1h-1zM321 635h5v1h-5zM318 636h1v1h-1zM323 636h1v1h-1zM313 637h1v1h-1zM318 637h3v1h-3zM438 637h1v1h-1zM312 638h2v1h-2zM315 638h2v1h-2zM318 638h4v1h-4zM438 638h1v1h-1zM316 639h1v1h-1zM319 639h4v1h-4zM438 639h1v1h-1zM310 640h4v1h-4zM317 640h2v1h-2zM321 640h3v1h-3zM334 640h1v1h-1zM307 641h1v1h-1zM311 641h2v1h-2zM314 641h1v1h-1zM318 641h3v1h-3zM322 641h2v1h-2zM414 641h2v1h-2zM308 642h1v1h-1zM313 642h9v1h-9zM323 642h2v1h-2zM328 642h1v1h-1zM414 642h1v1h-1zM436 642h1v1h-1zM308 643h1v1h-1zM311 643h2v1h-2zM318 643h1v1h-1zM320 643h1v1h-1zM322 643h4v1h-4zM329 643h1v1h-1zM421 643h1v1h-1zM432 643h1v1h-1zM435 643h1v1h-1zM303 644h2v1h-2zM306 644h2v1h-2zM311 644h5v1h-5zM318 644h1v1h-1zM320 644h3v1h-3zM329 644h3v1h-3zM334 644h1v1h-1zM417 644h1v1h-1zM419 644h1v1h-1zM422 644h1v1h-1zM426 644h2v1h-2zM432 644h2v1h-2zM436 644h1v1h-1zM438 644h1v1h-1zM441 644h1v1h-1zM302 645h2v1h-2zM305 645h2v1h-2zM310 645h3v1h-3zM315 645h6v1h-6zM322 645h1v1h-1zM328 645h3v1h-3zM415 645h2v1h-2zM418 645h9v1h-9zM430 645h5v1h-5zM436 645h3v1h-3zM441 645h1v1h-1zM306 646h2v1h-2zM309 646h2v1h-2zM312 646h10v1h-10zM323 646h4v1h-4zM328 646h1v1h-1zM415 646h1v1h-1zM419 646h5v1h-5zM426 646h2v1h-2zM429 646h1v1h-1zM432 646h1v1h-1zM434 646h5v1h-5zM440 646h3v1h-3zM303 647h2v1h-2zM306 647h1v1h-1zM310 647h6v1h-6zM318 647h5v1h-5zM324 647h1v1h-1zM327 647h1v1h-1zM329 647h1v1h-1zM414 647h4v1h-4zM419 647h2v1h-2zM422 647h11v1h-11zM434 647h9v1h-9zM451 647h2v1h-2zM304 648h1v1h-1zM309 648h3v1h-3zM314 648h16v1h-16zM413 648h1v1h-1zM415 648h26v1h-26zM451 648h1v1h-1zM305 649h2v1h-2zM311 649h1v1h-1zM313 649h7v1h-7zM321 649h1v1h-1zM326 649h1v1h-1zM328 649h1v1h-1zM413 649h16v1h-16zM430 649h12v1h-12zM443 649h2v1h-2zM304 650h1v1h-1zM306 650h2v1h-2zM310 650h7v1h-7zM318 650h5v1h-5zM324 650h3v1h-3zM413 650h30v1h-30zM445 650h1v1h-1zM457 650h1v1h-1zM305 651h1v1h-1zM307 651h4v1h-4zM313 651h7v1h-7zM321 651h1v1h-1zM323 651h2v1h-2zM327 651h1v1h-1zM413 651h31v1h-31zM445 651h1v1h-1zM449 651h2v1h-2zM304 652h2v1h-2zM309 652h10v1h-10zM321 652h3v1h-3zM325 652h4v1h-4zM414 652h1v1h-1zM416 652h28v1h-28zM445 652h1v1h-1zM450 652h2v1h-2zM306 653h2v1h-2zM309 653h6v1h-6zM316 653h7v1h-7zM324 653h1v1h-1zM328 653h1v1h-1zM332 653h2v1h-2zM413 653h29v1h-29zM443 653h2v1h-2zM446 653h2v1h-2zM305 654h3v1h-3zM310 654h7v1h-7zM318 654h7v1h-7zM326 654h1v1h-1zM328 654h1v1h-1zM332 654h1v1h-1zM413 654h30v1h-30zM448 654h1v1h-1zM305 655h2v1h-2zM308 655h1v1h-1zM310 655h2v1h-2zM313 655h1v1h-1zM315 655h4v1h-4zM322 655h1v1h-1zM324 655h2v1h-2zM327 655h1v1h-1zM413 655h30v1h-30zM447 655h1v1h-1zM304 656h2v1h-2zM308 656h2v1h-2zM311 656h4v1h-4zM316 656h3v1h-3zM320 656h1v1h-1zM322 656h7v1h-7zM331 656h1v1h-1zM413 656h1v1h-1zM415 656h28v1h-28zM446 656h1v1h-1zM449 656h1v1h-1zM451 656h1v1h-1zM306 657h2v1h-2zM309 657h1v1h-1zM311 657h4v1h-4zM316 657h12v1h-12zM413 657h30v1h-30zM444 657h1v1h-1zM447 657h2v1h-2zM450 657h2v1h-2zM455 657h1v1h-1zM306 658h2v1h-2zM309 658h2v1h-2zM312 658h4v1h-4zM317 658h6v1h-6zM325 658h1v1h-1zM327 658h2v1h-2zM413 658h34v1h-34zM455 658h1v1h-1zM302 659h1v1h-1zM308 659h2v1h-2zM311 659h6v1h-6zM318 659h10v1h-10zM414 659h4v1h-4zM419 659h25v1h-25zM454 659h1v1h-1zM303 660h4v1h-4zM310 660h7v1h-7zM318 660h2v1h-2zM321 660h2v1h-2zM324 660h2v1h-2zM332 660h1v1h-1zM413 660h32v1h-32zM303 661h1v1h-1zM306 661h3v1h-3zM310 661h6v1h-6zM317 661h7v1h-7zM328 661h1v1h-1zM332 661h1v1h-1zM413 661h30v1h-30zM444 661h2v1h-2zM307 662h1v1h-1zM309 662h2v1h-2zM313 662h1v1h-1zM316 662h1v1h-1zM319 662h2v1h-2zM322 662h3v1h-3zM332 662h1v1h-1zM413 662h31v1h-31zM445 662h1v1h-1zM305 663h1v1h-1zM308 663h1v1h-1zM313 663h1v1h-1zM315 663h1v1h-1zM317 663h1v1h-1zM319 663h7v1h-7zM413 663h34v1h-34zM305 664h2v1h-2zM314 664h1v1h-1zM316 664h4v1h-4zM322 664h2v1h-2zM413 664h30v1h-30zM444 664h2v1h-2zM453 664h1v1h-1zM306 665h1v1h-1zM311 665h1v1h-1zM314 665h5v1h-5zM320 665h1v1h-1zM413 665h30v1h-30zM444 665h1v1h-1zM307 666h1v1h-1zM312 666h1v1h-1zM315 666h2v1h-2zM319 666h1v1h-1zM413 666h5v1h-5zM419 666h25v1h-25zM448 666h1v1h-1zM313 667h5v1h-5zM319 667h4v1h-4zM413 667h30v1h-30zM444 667h2v1h-2zM447 667h2v1h-2zM316 668h1v1h-1zM318 668h3v1h-3zM322 668h2v1h-2zM327 668h1v1h-1zM413 668h30v1h-30zM444 668h3v1h-3zM315 669h3v1h-3zM321 669h1v1h-1zM413 669h29v1h-29zM443 669h1v1h-1zM445 669h1v1h-1zM321 670h1v1h-1zM414 670h28v1h-28zM321 671h1v1h-1zM413 671h6v1h-6zM420 671h8v1h-8zM430 671h11v1h-11zM443 671h2v1h-2zM320 672h1v1h-1zM414 672h12v1h-12zM427 672h9v1h-9zM437 672h5v1h-5zM443 672h1v1h-1zM415 673h3v1h-3zM419 673h2v1h-2zM422 673h10v1h-10zM433 673h5v1h-5zM439 673h1v1h-1zM442 673h1v1h-1z" fill="#000" fill-opacity="0.93"/><path d="M352 49h1v1h-1zM490 50h1v1h-1zM360 51h1v1h-1zM477 51h1v1h-1zM352 52h1v1h-1zM355 52h1v1h-1zM363 52h1v1h-1zM461 52h1v1h-1zM358 53h1v1h-1zM360 53h1v1h-1zM363 53h1v1h-1zM368 53h1v1h-1zM480 53h1v1h-1zM487 53h1v1h-1zM360 54h1v1h-1zM378 54h1v1h-1zM340 55h1v1h-1zM366 55h2v1h-2zM374 55h1v1h-1zM376 55h1v1h-1zM470 55h1v1h-1zM478 55h1v1h-1zM486 55h1v1h-1zM501 55h1v1h-1zM339 56h1v1h-1zM372 56h1v1h-1zM377 56h1v1h-1zM472 56h1v1h-1zM483 56h1v1h-1zM488 56h1v1h-1zM336 57h1v1h-1zM490 57h1v1h-1zM492 57h1v1h-1zM494 57h1v1h-1zM335 58h1v1h-1zM376 58h1v1h-1zM338 59h1v1h-1zM378 59h2v1h-2zM458 59h1v1h-1zM465 59h1v1h-1zM329 60h2v1h-2zM335 60h2v1h-2zM376 60h1v1h-1zM454 60h1v1h-1zM457 60h1v1h-1zM462 60h2v1h-2zM494 60h1v1h-1zM326 62h1v1h-1zM335 62h1v1h-1zM380 62h1v1h-1zM386 62h1v1h-1zM329 63h1v1h-1zM332 63h1v1h-1zM338 63h1v1h-1zM376 63h1v1h-1zM378 63h1v1h-1zM382 63h1v1h-1zM456 63h2v1h-2zM378 64h1v1h-1zM381 64h1v1h-1zM338 65h1v1h-1zM451 65h1v1h-1zM379 66h2v1h-2zM454 66h1v1h-1zM492 66h1v1h-1zM338 67h1v1h-1zM329 68h1v1h-1zM450 68h1v1h-1zM492 68h1v1h-1zM379 69h1v1h-1zM458 69h1v1h-1zM465 69h1v1h-1zM478 69h1v1h-1zM480 69h1v1h-1zM345 71h1v1h-1zM375 71h1v1h-1zM460 71h1v1h-1zM475 71h1v1h-1zM361 72h1v1h-1zM461 72h1v1h-1zM464 72h1v1h-1zM342 73h1v1h-1zM459 73h1v1h-1zM467 73h1v1h-1zM473 73h1v1h-1zM352 74h2v1h-2zM363 74h2v1h-2zM468 74h1v1h-1zM478 74h1v1h-1zM342 75h1v1h-1zM480 75h1v1h-1zM361 76h1v1h-1zM483 76h1v1h-1zM377 77h1v1h-1zM452 77h1v1h-1zM479 78h1v1h-1zM467 79h1v1h-1zM342 80h1v1h-1zM347 80h1v1h-1zM370 81h1v1h-1zM329 82h1v1h-1zM460 82h1v1h-1zM465 82h1v1h-1zM354 83h1v1h-1zM457 83h2v1h-2zM470 83h1v1h-1zM476 83h1v1h-1zM481 83h1v1h-1zM348 84h1v1h-1zM356 84h1v1h-1zM448 84h1v1h-1zM460 84h1v1h-1zM469 84h1v1h-1zM480 84h1v1h-1zM346 85h1v1h-1zM357 85h1v1h-1zM363 85h2v1h-2zM459 85h1v1h-1zM471 85h1v1h-1zM477 85h1v1h-1zM350 86h1v1h-1zM359 86h1v1h-1zM451 86h1v1h-1zM453 86h1v1h-1zM463 86h1v1h-1zM480 86h1v1h-1zM483 86h1v1h-1zM336 87h1v1h-1zM338 87h1v1h-1zM342 87h1v1h-1zM345 87h1v1h-1zM357 87h1v1h-1zM453 87h1v1h-1zM455 87h1v1h-1zM458 87h1v1h-1zM351 88h1v1h-1zM450 88h1v1h-1zM482 88h1v1h-1zM350 89h1v1h-1zM358 89h1v1h-1zM362 89h1v1h-1zM474 89h1v1h-1zM447 90h1v1h-1zM453 90h1v1h-1zM341 91h1v1h-1zM361 91h1v1h-1zM366 91h1v1h-1zM447 91h1v1h-1zM484 91h1v1h-1zM488 91h1v1h-1zM444 92h1v1h-1zM449 92h1v1h-1zM451 92h1v1h-1zM489 92h1v1h-1zM319 93h1v1h-1zM324 93h1v1h-1zM332 93h1v1h-1zM362 93h1v1h-1zM366 93h1v1h-1zM451 94h1v1h-1zM453 94h1v1h-1zM486 94h1v1h-1zM488 94h1v1h-1zM331 95h1v1h-1zM447 95h1v1h-1zM336 96h1v1h-1zM487 96h1v1h-1zM330 97h1v1h-1zM334 97h1v1h-1zM361 97h1v1h-1zM363 97h1v1h-1zM366 97h1v1h-1zM490 97h1v1h-1zM325 98h1v1h-1zM368 98h1v1h-1zM449 98h1v1h-1zM332 99h1v1h-1zM366 99h1v1h-1zM379 99h1v1h-1zM372 100h1v1h-1zM448 100h1v1h-1zM490 100h1v1h-1zM495 101h1v1h-1zM335 102h1v1h-1zM337 102h1v1h-1zM448 102h1v1h-1zM487 102h1v1h-1zM330 103h1v1h-1zM362 104h1v1h-1zM370 104h1v1h-1zM444 104h1v1h-1zM488 104h1v1h-1zM490 104h1v1h-1zM492 104h1v1h-1zM449 105h1v1h-1zM362 106h1v1h-1zM448 106h1v1h-1zM493 106h1v1h-1zM332 107h1v1h-1zM337 107h1v1h-1zM358 107h1v1h-1zM360 107h1v1h-1zM450 107h1v1h-1zM490 107h1v1h-1zM334 108h1v1h-1zM484 108h1v1h-1zM488 108h1v1h-1zM367 109h1v1h-1zM374 109h1v1h-1zM448 109h1v1h-1zM486 109h1v1h-1zM335 110h1v1h-1zM364 110h1v1h-1zM373 110h1v1h-1zM331 111h1v1h-1zM333 111h1v1h-1zM362 111h1v1h-1zM366 111h1v1h-1zM368 111h1v1h-1zM488 111h1v1h-1zM336 112h1v1h-1zM364 112h1v1h-1zM487 112h1v1h-1zM329 113h1v1h-1zM445 113h1v1h-1zM450 113h1v1h-1zM453 113h1v1h-1zM334 114h1v1h-1zM357 114h1v1h-1zM361 114h1v1h-1zM364 114h1v1h-1zM333 115h1v1h-1zM337 115h1v1h-1zM349 115h1v1h-1zM351 115h1v1h-1zM370 115h1v1h-1zM343 116h1v1h-1zM345 116h1v1h-1zM356 116h2v1h-2zM360 116h1v1h-1zM479 116h1v1h-1zM350 117h1v1h-1zM360 117h1v1h-1zM493 117h1v1h-1zM363 205h1v1h-1zM429 207h1v1h-1zM336 208h1v1h-1zM302 211h1v1h-1zM319 211h1v1h-1zM330 211h1v1h-1zM315 212h1v1h-1zM330 212h1v1h-1zM320 214h1v1h-1zM322 214h1v1h-1zM325 214h1v1h-1zM314 215h1v1h-1zM327 215h1v1h-1zM332 215h1v1h-1zM311 216h1v1h-1zM317 216h1v1h-1zM319 216h1v1h-1zM321 217h1v1h-1zM346 218h1v1h-1zM357 218h1v1h-1zM364 218h1v1h-1zM331 219h1v1h-1zM311 220h1v1h-1zM313 220h1v1h-1zM311 221h1v1h-1zM330 221h1v1h-1zM340 221h1v1h-1zM304 222h1v1h-1zM332 222h1v1h-1zM334 222h2v1h-2zM340 222h1v1h-1zM310 223h1v1h-1zM332 223h1v1h-1zM358 223h1v1h-1zM428 223h1v1h-1zM432 223h1v1h-1zM443 223h1v1h-1zM307 224h1v1h-1zM311 224h1v1h-1zM339 224h1v1h-1zM421 224h1v1h-1zM433 224h1v1h-1zM303 225h1v1h-1zM333 225h1v1h-1zM336 225h1v1h-1zM341 225h2v1h-2zM344 225h1v1h-1zM362 225h1v1h-1zM429 225h1v1h-1zM436 225h1v1h-1zM440 225h1v1h-1zM443 225h1v1h-1zM308 226h1v1h-1zM312 226h1v1h-1zM314 226h1v1h-1zM333 226h1v1h-1zM357 226h1v1h-1zM426 226h1v1h-1zM433 226h1v1h-1zM309 227h1v1h-1zM336 227h1v1h-1zM352 227h1v1h-1zM421 227h1v1h-1zM311 228h1v1h-1zM338 228h1v1h-1zM343 228h1v1h-1zM356 228h1v1h-1zM421 228h1v1h-1zM431 228h1v1h-1zM460 228h1v1h-1zM415 229h1v1h-1zM447 229h1v1h-1zM309 230h1v1h-1zM336 230h1v1h-1zM353 230h2v1h-2zM357 230h1v1h-1zM451 230h1v1h-1zM339 231h1v1h-1zM348 231h1v1h-1zM422 231h1v1h-1zM440 231h1v1h-1zM448 231h1v1h-1zM310 232h1v1h-1zM312 232h1v1h-1zM337 232h1v1h-1zM345 232h1v1h-1zM348 233h2v1h-2zM419 233h1v1h-1zM445 233h1v1h-1zM338 234h1v1h-1zM340 234h1v1h-1zM343 234h1v1h-1zM343 235h1v1h-1zM345 235h1v1h-1zM356 235h1v1h-1zM445 235h1v1h-1zM308 236h1v1h-1zM339 236h1v1h-1zM353 236h1v1h-1zM355 236h1v1h-1zM347 237h1v1h-1zM351 237h1v1h-1zM351 238h1v1h-1zM421 238h1v1h-1zM311 239h1v1h-1zM358 239h1v1h-1zM419 239h1v1h-1zM335 240h1v1h-1zM338 240h1v1h-1zM422 240h1v1h-1zM446 240h1v1h-1zM318 241h1v1h-1zM335 241h1v1h-1zM337 241h1v1h-1zM420 241h1v1h-1zM315 242h1v1h-1zM332 242h1v1h-1zM414 242h1v1h-1zM471 242h1v1h-1zM313 243h1v1h-1zM317 243h2v1h-2zM330 243h1v1h-1zM372 243h1v1h-1zM421 243h1v1h-1zM423 243h1v1h-1zM425 243h1v1h-1zM321 244h1v1h-1zM328 244h1v1h-1zM442 244h1v1h-1zM316 245h1v1h-1zM324 245h1v1h-1zM374 245h1v1h-1zM419 245h1v1h-1zM438 245h1v1h-1zM425 246h1v1h-1zM321 247h1v1h-1zM418 248h1v1h-1zM424 248h1v1h-1zM426 248h1v1h-1zM431 248h1v1h-1zM455 248h1v1h-1zM324 249h1v1h-1zM430 249h1v1h-1zM322 250h1v1h-1zM328 250h1v1h-1zM422 250h1v1h-1zM436 250h1v1h-1zM312 251h1v1h-1zM314 251h1v1h-1zM317 251h1v1h-1zM347 251h1v1h-1zM422 251h1v1h-1zM434 251h1v1h-1zM323 252h1v1h-1zM426 252h1v1h-1zM434 252h1v1h-1zM438 252h1v1h-1zM445 252h1v1h-1zM304 253h1v1h-1zM315 253h1v1h-1zM317 253h1v1h-1zM327 253h1v1h-1zM417 253h1v1h-1zM419 253h1v1h-1zM427 253h1v1h-1zM436 253h1v1h-1zM440 253h1v1h-1zM317 254h1v1h-1zM329 254h1v1h-1zM339 254h1v1h-1zM353 254h1v1h-1zM464 254h1v1h-1zM323 255h1v1h-1zM327 255h1v1h-1zM331 255h1v1h-1zM426 255h1v1h-1zM338 256h1v1h-1zM436 256h1v1h-1zM438 256h1v1h-1zM446 256h1v1h-1zM452 256h1v1h-1zM306 257h1v1h-1zM422 257h1v1h-1zM440 257h1v1h-1zM444 258h1v1h-1zM329 259h1v1h-1zM331 259h1v1h-1zM422 259h1v1h-1zM304 260h1v1h-1zM312 260h1v1h-1zM314 260h1v1h-1zM416 260h1v1h-1zM419 260h1v1h-1zM448 260h1v1h-1zM454 260h1v1h-1zM463 260h1v1h-1zM305 261h1v1h-1zM328 261h1v1h-1zM331 261h1v1h-1zM446 261h1v1h-1zM335 262h1v1h-1zM451 262h1v1h-1zM455 262h1v1h-1zM466 262h1v1h-1zM307 263h1v1h-1zM330 263h1v1h-1zM447 263h1v1h-1zM332 264h1v1h-1zM444 264h1v1h-1zM461 264h1v1h-1zM301 265h1v1h-1zM329 265h1v1h-1zM413 265h1v1h-1zM418 265h1v1h-1zM458 265h1v1h-1zM308 266h1v1h-1zM312 266h1v1h-1zM411 266h1v1h-1zM447 267h1v1h-1zM451 267h1v1h-1zM453 267h1v1h-1zM310 268h1v1h-1zM415 269h2v1h-2zM450 269h1v1h-1zM454 269h1v1h-1zM418 270h1v1h-1zM446 270h1v1h-1zM313 271h1v1h-1zM333 271h1v1h-1zM415 271h1v1h-1zM454 271h1v1h-1zM456 271h1v1h-1zM307 272h1v1h-1zM329 272h1v1h-1zM414 272h1v1h-1zM417 272h1v1h-1zM464 272h1v1h-1zM311 273h1v1h-1zM347 273h1v1h-1zM454 273h1v1h-1zM460 273h1v1h-1zM308 274h1v1h-1zM327 274h1v1h-1zM331 274h1v1h-1zM414 274h1v1h-1zM311 275h1v1h-1zM449 275h1v1h-1zM452 275h1v1h-1zM457 275h1v1h-1zM459 275h1v1h-1zM327 276h1v1h-1zM330 276h1v1h-1zM416 276h1v1h-1zM453 276h1v1h-1zM333 277h1v1h-1zM350 277h1v1h-1zM355 277h1v1h-1zM414 277h1v1h-1zM418 277h1v1h-1zM455 277h1v1h-1zM458 277h1v1h-1zM462 277h1v1h-1zM307 278h1v1h-1zM311 278h1v1h-1zM326 278h1v1h-1zM331 278h1v1h-1zM417 278h1v1h-1zM450 278h1v1h-1zM452 279h1v1h-1zM454 279h1v1h-1zM461 279h1v1h-1zM305 280h1v1h-1zM325 280h1v1h-1zM328 280h1v1h-1zM336 280h1v1h-1zM411 280h1v1h-1zM414 280h1v1h-1zM419 280h1v1h-1zM310 281h1v1h-1zM411 281h1v1h-1zM324 282h1v1h-1zM330 282h1v1h-1zM413 282h1v1h-1zM451 282h1v1h-1zM319 283h1v1h-1zM324 283h1v1h-1zM416 283h1v1h-1zM447 283h1v1h-1zM311 284h1v1h-1zM329 284h1v1h-1zM446 284h1v1h-1zM456 284h1v1h-1zM311 285h1v1h-1zM313 285h1v1h-1zM452 285h1v1h-1zM327 286h1v1h-1zM330 286h1v1h-1zM416 286h1v1h-1zM451 286h1v1h-1zM315 288h1v1h-1zM320 288h1v1h-1zM414 288h1v1h-1zM443 288h1v1h-1zM359 398h1v1h-1zM347 399h1v1h-1zM325 400h1v1h-1zM471 400h1v1h-1zM312 402h1v1h-1zM314 402h1v1h-1zM340 402h1v1h-1zM459 402h1v1h-1zM412 403h1v1h-1zM328 404h1v1h-1zM342 404h1v1h-1zM441 404h1v1h-1zM325 405h1v1h-1zM337 405h1v1h-1zM346 405h1v1h-1zM423 405h1v1h-1zM311 406h1v1h-1zM321 406h2v1h-2zM329 406h1v1h-1zM331 406h1v1h-1zM339 406h1v1h-1zM308 407h1v1h-1zM317 407h1v1h-1zM326 407h1v1h-1zM329 407h1v1h-1zM331 407h1v1h-1zM334 407h1v1h-1zM350 407h1v1h-1zM298 408h1v1h-1zM303 408h1v1h-1zM315 408h1v1h-1zM338 409h1v1h-1zM341 409h1v1h-1zM343 409h1v1h-1zM345 409h1v1h-1zM355 409h1v1h-1zM427 409h1v1h-1zM449 409h1v1h-1zM332 410h1v1h-1zM350 410h1v1h-1zM355 410h1v1h-1zM419 410h1v1h-1zM419 411h1v1h-1zM426 411h2v1h-2zM443 411h1v1h-1zM349 412h1v1h-1zM353 412h1v1h-1zM417 412h1v1h-1zM430 412h1v1h-1zM351 413h1v1h-1zM368 413h1v1h-1zM420 413h1v1h-1zM437 413h1v1h-1zM444 413h1v1h-1zM451 413h1v1h-1zM453 413h1v1h-1zM459 413h1v1h-1zM350 415h1v1h-1zM452 415h1v1h-1zM438 416h1v1h-1zM441 417h1v1h-1zM341 418h1v1h-1zM453 418h1v1h-1zM446 419h1v1h-1zM450 419h1v1h-1zM412 420h1v1h-1zM453 420h1v1h-1zM472 420h1v1h-1zM331 421h1v1h-1zM335 421h1v1h-1zM337 421h1v1h-1zM339 421h1v1h-1zM350 421h1v1h-1zM352 422h1v1h-1zM450 422h1v1h-1zM331 423h1v1h-1zM439 423h1v1h-1zM330 424h1v1h-1zM334 424h2v1h-2zM412 424h1v1h-1zM475 424h1v1h-1zM332 425h1v1h-1zM345 425h1v1h-1zM415 425h1v1h-1zM454 425h1v1h-1zM322 426h1v1h-1zM329 426h1v1h-1zM446 426h1v1h-1zM328 427h1v1h-1zM412 427h2v1h-2zM433 427h1v1h-1zM304 428h1v1h-1zM312 428h1v1h-1zM316 428h1v1h-1zM323 428h1v1h-1zM332 428h1v1h-1zM338 428h1v1h-1zM425 428h1v1h-1zM441 428h1v1h-1zM300 429h2v1h-2zM304 429h1v1h-1zM415 429h1v1h-1zM449 429h1v1h-1zM310 430h1v1h-1zM312 430h1v1h-1zM323 430h1v1h-1zM434 430h1v1h-1zM440 430h1v1h-1zM298 431h1v1h-1zM302 431h1v1h-1zM304 432h1v1h-1zM323 432h1v1h-1zM312 433h1v1h-1zM318 433h1v1h-1zM419 434h1v1h-1zM298 435h1v1h-1zM319 435h1v1h-1zM433 436h1v1h-1zM437 436h1v1h-1zM315 438h1v1h-1zM325 438h1v1h-1zM308 439h2v1h-2zM312 439h1v1h-1zM317 439h1v1h-1zM322 439h1v1h-1zM325 440h2v1h-2zM328 440h1v1h-1zM433 440h1v1h-1zM302 441h1v1h-1zM319 441h1v1h-1zM297 442h1v1h-1zM311 442h1v1h-1zM317 442h1v1h-1zM333 442h1v1h-1zM427 442h1v1h-1zM303 443h1v1h-1zM310 443h1v1h-1zM325 443h2v1h-2zM421 443h1v1h-1zM427 443h1v1h-1zM431 443h1v1h-1zM438 443h1v1h-1zM440 443h1v1h-1zM295 444h1v1h-1zM314 444h1v1h-1zM316 444h1v1h-1zM319 444h1v1h-1zM321 444h1v1h-1zM330 444h1v1h-1zM333 444h1v1h-1zM435 444h1v1h-1zM446 444h1v1h-1zM296 445h1v1h-1zM303 445h1v1h-1zM306 445h1v1h-1zM337 445h1v1h-1zM416 445h1v1h-1zM419 445h1v1h-1zM425 445h1v1h-1zM427 445h1v1h-1zM429 445h1v1h-1zM433 445h1v1h-1zM301 446h1v1h-1zM314 446h1v1h-1zM318 446h1v1h-1zM335 446h1v1h-1zM413 446h1v1h-1zM419 446h1v1h-1zM422 446h1v1h-1zM434 446h1v1h-1zM436 446h1v1h-1zM299 447h1v1h-1zM315 447h1v1h-1zM318 447h1v1h-1zM320 447h1v1h-1zM329 447h1v1h-1zM475 447h1v1h-1zM327 448h1v1h-1zM334 448h1v1h-1zM295 449h1v1h-1zM318 449h1v1h-1zM339 449h1v1h-1zM332 450h1v1h-1zM334 450h1v1h-1zM443 450h1v1h-1zM445 450h1v1h-1zM330 452h1v1h-1zM446 452h1v1h-1zM451 452h1v1h-1zM332 453h1v1h-1zM334 453h1v1h-1zM449 453h1v1h-1zM330 454h1v1h-1zM347 454h1v1h-1zM447 454h1v1h-1zM457 454h1v1h-1zM333 455h1v1h-1zM446 455h1v1h-1zM452 455h1v1h-1zM459 455h1v1h-1zM337 456h1v1h-1zM339 456h1v1h-1zM344 456h2v1h-2zM461 456h1v1h-1zM295 457h1v1h-1zM447 457h1v1h-1zM356 458h1v1h-1zM449 458h1v1h-1zM462 458h1v1h-1zM296 459h1v1h-1zM304 459h1v1h-1zM330 459h1v1h-1zM341 459h2v1h-2zM450 459h1v1h-1zM464 459h1v1h-1zM336 460h1v1h-1zM448 460h1v1h-1zM470 460h1v1h-1zM297 461h1v1h-1zM301 461h1v1h-1zM332 461h1v1h-1zM470 461h1v1h-1zM476 461h1v1h-1zM295 462h1v1h-1zM297 462h1v1h-1zM299 462h1v1h-1zM329 462h1v1h-1zM338 462h1v1h-1zM349 462h1v1h-1zM452 462h1v1h-1zM457 462h1v1h-1zM295 464h1v1h-1zM300 464h1v1h-1zM330 464h1v1h-1zM334 464h1v1h-1zM473 464h1v1h-1zM298 465h1v1h-1zM332 465h1v1h-1zM337 465h1v1h-1zM340 465h1v1h-1zM447 465h1v1h-1zM449 465h1v1h-1zM461 465h1v1h-1zM466 465h1v1h-1zM316 466h1v1h-1zM326 466h1v1h-1zM328 466h1v1h-1zM346 466h1v1h-1zM296 467h1v1h-1zM298 467h1v1h-1zM320 467h1v1h-1zM440 467h1v1h-1zM445 467h1v1h-1zM447 467h1v1h-1zM459 467h1v1h-1zM318 468h1v1h-1zM322 468h1v1h-1zM324 468h1v1h-1zM331 468h1v1h-1zM295 469h1v1h-1zM303 469h1v1h-1zM315 469h1v1h-1zM320 469h1v1h-1zM418 469h1v1h-1zM439 469h1v1h-1zM447 469h1v1h-1zM305 470h1v1h-1zM316 470h1v1h-1zM412 470h1v1h-1zM310 471h1v1h-1zM314 471h1v1h-1zM318 471h1v1h-1zM321 471h1v1h-1zM323 471h1v1h-1zM415 471h1v1h-1zM417 471h1v1h-1zM303 472h1v1h-1zM312 472h1v1h-1zM326 472h1v1h-1zM413 472h1v1h-1zM432 472h1v1h-1zM436 472h1v1h-1zM311 473h1v1h-1zM318 473h1v1h-1zM320 473h1v1h-1zM429 473h1v1h-1zM438 473h1v1h-1zM313 474h1v1h-1zM329 474h1v1h-1zM412 474h1v1h-1zM419 474h1v1h-1zM433 474h1v1h-1zM436 474h1v1h-1zM448 474h1v1h-1zM451 474h1v1h-1zM301 475h1v1h-1zM309 475h1v1h-1zM319 475h1v1h-1zM339 475h1v1h-1zM412 475h1v1h-1zM424 475h1v1h-1zM449 475h1v1h-1zM318 476h1v1h-1zM322 476h1v1h-1zM419 476h1v1h-1zM427 476h1v1h-1zM429 476h1v1h-1zM432 476h1v1h-1zM434 476h1v1h-1zM441 476h1v1h-1zM447 476h1v1h-1zM344 477h1v1h-1zM424 477h1v1h-1zM439 477h1v1h-1zM299 478h1v1h-1zM412 478h1v1h-1zM435 478h1v1h-1zM330 589h1v1h-1zM307 590h1v1h-1zM464 590h1v1h-1zM474 590h1v1h-1zM474 591h1v1h-1zM304 593h1v1h-1zM331 593h1v1h-1zM372 594h1v1h-1zM314 595h1v1h-1zM328 595h1v1h-1zM336 595h1v1h-1zM355 595h1v1h-1zM439 595h1v1h-1zM317 596h1v1h-1zM322 596h1v1h-1zM355 597h1v1h-1zM318 598h1v1h-1zM327 598h1v1h-1zM333 598h1v1h-1zM336 598h1v1h-1zM306 599h1v1h-1zM311 599h1v1h-1zM316 599h1v1h-1zM343 599h1v1h-1zM359 599h1v1h-1zM309 600h1v1h-1zM320 600h1v1h-1zM323 600h1v1h-1zM329 600h1v1h-1zM307 601h1v1h-1zM317 601h1v1h-1zM333 601h1v1h-1zM337 601h1v1h-1zM340 601h1v1h-1zM459 601h1v1h-1zM301 602h1v1h-1zM305 602h1v1h-1zM309 602h1v1h-1zM317 602h1v1h-1zM324 602h1v1h-1zM335 602h1v1h-1zM340 602h1v1h-1zM352 602h1v1h-1zM354 602h1v1h-1zM299 603h1v1h-1zM333 603h1v1h-1zM416 603h1v1h-1zM427 603h1v1h-1zM447 603h1v1h-1zM369 604h1v1h-1zM414 604h1v1h-1zM299 605h1v1h-1zM339 605h1v1h-1zM432 605h1v1h-1zM436 605h1v1h-1zM441 605h1v1h-1zM341 606h1v1h-1zM346 606h2v1h-2zM424 606h1v1h-1zM297 607h2v1h-2zM300 607h1v1h-1zM343 607h1v1h-1zM418 607h1v1h-1zM424 607h1v1h-1zM346 608h1v1h-1zM421 608h1v1h-1zM433 608h1v1h-1zM437 608h1v1h-1zM298 609h1v1h-1zM301 609h1v1h-1zM343 609h1v1h-1zM348 609h1v1h-1zM356 609h1v1h-1zM417 609h1v1h-1zM477 609h1v1h-1zM352 610h1v1h-1zM425 610h1v1h-1zM434 610h1v1h-1zM438 610h1v1h-1zM440 610h2v1h-2zM448 610h1v1h-1zM298 611h1v1h-1zM346 611h1v1h-1zM417 611h1v1h-1zM415 612h1v1h-1zM438 612h1v1h-1zM418 613h1v1h-1zM415 614h1v1h-1zM453 614h1v1h-1zM447 615h1v1h-1zM453 615h1v1h-1zM352 616h1v1h-1zM415 616h1v1h-1zM451 616h1v1h-1zM345 617h1v1h-1zM467 617h1v1h-1zM344 618h1v1h-1zM417 618h1v1h-1zM450 618h1v1h-1zM297 619h1v1h-1zM347 619h1v1h-1zM413 619h1v1h-1zM415 619h1v1h-1zM449 619h1v1h-1zM345 620h1v1h-1zM341 621h1v1h-1zM356 621h1v1h-1zM413 621h1v1h-1zM416 621h1v1h-1zM419 621h1v1h-1zM447 621h1v1h-1zM447 622h1v1h-1zM449 622h1v1h-1zM299 623h1v1h-1zM345 623h1v1h-1zM357 623h1v1h-1zM421 623h1v1h-1zM303 624h1v1h-1zM332 624h1v1h-1zM347 624h1v1h-1zM413 624h1v1h-1zM415 624h1v1h-1zM423 624h1v1h-1zM439 624h1v1h-1zM442 624h1v1h-1zM448 624h1v1h-1zM311 625h1v1h-1zM336 625h1v1h-1zM432 625h1v1h-1zM458 625h1v1h-1zM297 626h2v1h-2zM316 626h1v1h-1zM326 626h1v1h-1zM331 626h1v1h-1zM333 626h1v1h-1zM421 626h1v1h-1zM425 626h1v1h-1zM441 626h1v1h-1zM446 626h1v1h-1zM304 627h1v1h-1zM311 627h1v1h-1zM354 627h1v1h-1zM422 627h1v1h-1zM434 627h1v1h-1zM444 627h1v1h-1zM464 627h1v1h-1zM307 628h1v1h-1zM314 628h1v1h-1zM327 628h1v1h-1zM333 628h1v1h-1zM342 628h1v1h-1zM355 628h1v1h-1zM429 628h1v1h-1zM433 628h1v1h-1zM297 629h1v1h-1zM304 629h1v1h-1zM307 629h1v1h-1zM314 629h1v1h-1zM316 629h1v1h-1zM319 629h1v1h-1zM324 629h1v1h-1zM331 629h1v1h-1zM333 629h1v1h-1zM339 629h1v1h-1zM431 629h1v1h-1zM446 629h1v1h-1zM301 630h1v1h-1zM329 630h1v1h-1zM431 630h1v1h-1zM306 631h1v1h-1zM312 631h1v1h-1zM316 631h1v1h-1zM321 631h1v1h-1zM323 631h1v1h-1zM452 631h1v1h-1zM303 632h1v1h-1zM325 632h1v1h-1zM341 632h1v1h-1zM350 632h1v1h-1zM305 633h1v1h-1zM307 633h1v1h-1zM315 633h1v1h-1zM319 633h1v1h-1zM363 633h1v1h-1zM435 633h1v1h-1zM318 634h1v1h-1zM424 634h1v1h-1zM436 634h1v1h-1zM440 634h1v1h-1zM446 634h1v1h-1zM309 635h1v1h-1zM316 635h1v1h-1zM328 635h2v1h-2zM422 635h1v1h-1zM306 636h2v1h-2zM311 636h1v1h-1zM316 636h1v1h-1zM336 636h1v1h-1zM339 636h1v1h-1zM417 636h1v1h-1zM430 636h1v1h-1zM438 636h1v1h-1zM303 637h1v1h-1zM327 637h1v1h-1zM336 637h1v1h-1zM414 637h1v1h-1zM416 637h1v1h-1zM427 637h1v1h-1zM472 637h1v1h-1zM301 638h1v1h-1zM309 638h1v1h-1zM330 638h1v1h-1zM332 638h1v1h-1zM427 638h1v1h-1zM432 638h1v1h-1zM435 638h1v1h-1zM445 638h1v1h-1zM297 639h1v1h-1zM299 639h1v1h-1zM325 639h2v1h-2zM330 639h1v1h-1zM416 639h1v1h-1zM430 639h1v1h-1zM433 639h1v1h-1zM436 639h1v1h-1zM309 640h1v1h-1zM335 640h1v1h-1zM338 640h1v1h-1zM424 640h1v1h-1zM439 640h1v1h-1zM444 640h1v1h-1zM302 641h2v1h-2zM306 641h1v1h-1zM328 641h1v1h-1zM333 641h1v1h-1zM451 641h1v1h-1zM454 641h1v1h-1zM466 641h1v1h-1zM330 642h1v1h-1zM354 642h1v1h-1zM365 642h1v1h-1zM417 642h1v1h-1zM420 642h1v1h-1zM424 642h1v1h-1zM426 642h1v1h-1zM433 642h1v1h-1zM437 642h1v1h-1zM447 642h1v1h-1zM456 642h1v1h-1zM335 643h1v1h-1zM442 643h1v1h-1zM451 643h1v1h-1zM453 643h1v1h-1zM460 643h1v1h-1zM428 644h1v1h-1zM297 645h1v1h-1zM333 645h1v1h-1zM336 645h1v1h-1zM448 645h2v1h-2zM300 646h1v1h-1zM444 646h1v1h-1zM465 646h1v1h-1zM298 647h1v1h-1zM331 647h1v1h-1zM333 647h1v1h-1zM454 647h1v1h-1zM302 648h1v1h-1zM308 648h1v1h-1zM331 648h1v1h-1zM335 648h1v1h-1zM339 648h1v1h-1zM362 648h1v1h-1zM445 648h1v1h-1zM449 648h1v1h-1zM454 648h1v1h-1zM376 649h1v1h-1zM456 649h1v1h-1zM458 649h1v1h-1zM301 650h1v1h-1zM330 650h1v1h-1zM447 650h1v1h-1zM332 651h1v1h-1zM378 651h1v1h-1zM337 652h1v1h-1zM302 653h1v1h-1zM330 653h1v1h-1zM335 653h1v1h-1zM368 653h1v1h-1zM464 653h1v1h-1zM299 654h1v1h-1zM330 654h1v1h-1zM456 654h1v1h-1zM459 654h1v1h-1zM299 655h1v1h-1zM334 655h1v1h-1zM452 655h1v1h-1zM330 656h1v1h-1zM332 656h1v1h-1zM350 656h1v1h-1zM455 656h1v1h-1zM371 657h1v1h-1zM453 657h1v1h-1zM463 657h1v1h-1zM301 658h1v1h-1zM331 659h1v1h-1zM448 659h1v1h-1zM450 659h1v1h-1zM453 659h1v1h-1zM329 660h1v1h-1zM448 660h1v1h-1zM456 660h1v1h-1zM300 661h1v1h-1zM327 661h1v1h-1zM339 661h1v1h-1zM357 661h1v1h-1zM459 661h1v1h-1zM479 662h1v1h-1zM327 663h1v1h-1zM329 663h1v1h-1zM333 663h1v1h-1zM454 663h1v1h-1zM297 664h1v1h-1zM310 664h1v1h-1zM331 664h1v1h-1zM449 664h2v1h-2zM457 664h1v1h-1zM304 665h1v1h-1zM327 665h1v1h-1zM446 665h1v1h-1zM453 665h1v1h-1zM324 666h1v1h-1zM335 666h1v1h-1zM305 667h1v1h-1zM307 667h1v1h-1zM310 667h1v1h-1zM327 667h1v1h-1zM332 667h1v1h-1zM451 667h1v1h-1zM454 667h2v1h-2zM457 667h1v1h-1zM309 668h1v1h-1zM325 668h1v1h-1zM450 668h1v1h-1zM457 668h1v1h-1zM327 669h1v1h-1zM329 669h1v1h-1zM447 669h1v1h-1zM313 670h1v1h-1zM319 671h1v1h-1zM326 671h1v1h-1zM330 671h2v1h-2zM448 671h1v1h-1zM451 671h1v1h-1zM306 672h1v1h-1zM314 672h1v1h-1zM316 672h2v1h-2zM324 672h1v1h-1zM453 672h1v1h-1zM413 673h1v1h-1zM445 673h1v1h-1z" fill="#000" fill-opacity="0.6"/>
<text x="0.80" y="18.60" font-family="'Liberation Sans', sans-serif" font-size="26" font-weight="bold">A</text>
<text transform="translate(22.10,82.30) rotate(-90)" font-family="'Liberation Sans', sans-serif" font-size="13" font-weight="bold" text-anchor="middle" textLength="85.40" lengthAdjust="spacingAndGlyphs">Percentage of</text>
<text transform="translate(37.00,81.90) rotate(-90)" font-family="'Liberation Sans', sans-serif" font-size="13" font-weight="bold" text-anchor="middle" textLength="114.30" lengthAdjust="spacingAndGlyphs">donor CD8<tspan font-size="8" dy="-5">+</tspan><tspan dy="5"> T cells</tspan></text>
<line x1="72.20" y1="25.60" x2="72.20" y2="137.20" stroke="#000" stroke-width="1.7"/>
<line x1="68.40" y1="136.50" x2="239.00" y2="136.50" stroke="#000" stroke-width="1.3"/>
<line x1="72.20" y1="136.50" x2="92.00" y2="136.50" stroke="#000" stroke-width="2.0"/>
<line x1="68.40" y1="25.80" x2="72.20" y2="25.80" stroke="#000" stroke-width="1.3"/>
<line x1="68.40" y1="53.40" x2="72.20" y2="53.40" stroke="#000" stroke-width="1.3"/>
<line x1="68.40" y1="81.20" x2="72.20" y2="81.20" stroke="#000" stroke-width="1.3"/>
<line x1="68.40" y1="109.00" x2="72.20" y2="109.00" stroke="#000" stroke-width="1.3"/>
<text x="48.10" y="30.90" font-family="'Liberation Sans', sans-serif" font-size="13" textLength="19.60" lengthAdjust="spacingAndGlyphs">100</text>
<text x="51.20" y="58.55" font-family="'Liberation Sans', sans-serif" font-size="13" textLength="12.60" lengthAdjust="spacingAndGlyphs">75</text>
<text x="50.70" y="86.80" font-family="'Liberation Sans', sans-serif" font-size="13" textLength="13.70" lengthAdjust="spacingAndGlyphs">50</text>
<text x="50.70" y="114.10" font-family="'Liberation Sans', sans-serif" font-size="13" textLength="13.70" lengthAdjust="spacingAndGlyphs">25</text>
<text x="55.00" y="141.90" font-family="'Liberation Sans', sans-serif" font-size="13" textLength="6.50" lengthAdjust="spacingAndGlyphs">0</text>
<path d="M117.55 40.25h5.30v5.30h-5.30z" fill="#000"/>
<path d="M104.35 46.95h5.30v5.30h-5.30z" fill="#000"/>
<path d="M112.35 50.65h5.30v5.30h-5.30z" fill="#000"/>
<path d="M129.65 48.55h5.30v5.30h-5.30z" fill="#000"/>
<path d="M103.85 54.25h5.30v5.30h-5.30z" fill="#000"/>
<path d="M120.95 53.35h5.30v5.30h-5.30z" fill="#000"/>
<path d="M117.55 60.25h5.30v5.30h-5.30z" fill="#000"/>
<path d="M127.95 60.25h5.30v5.30h-5.30z" fill="#000"/>
<path d="M117.55 75.15h5.30v5.30h-5.30z" fill="#000"/>
<path d="M117.35 107.35h5.30v5.30h-5.30z" fill="#000"/>
<line x1="96.20" y1="61.70" x2="143.10" y2="61.70" stroke="#000" stroke-width="1.8"/>
<path d="M191.00 75.50L194.41 81.39L187.59 81.39z" fill="#000"/>
<path d="M193.40 99.30L196.81 105.19L189.99 105.19z" fill="#000"/>
<path d="M184.60 104.60L188.01 110.49L181.19 110.49z" fill="#000"/>
<path d="M191.10 106.40L194.51 112.29L187.69 112.29z" fill="#000"/>
<path d="M197.50 104.60L200.91 110.49L194.09 110.49z" fill="#000"/>
<path d="M184.60 118.90L188.01 124.79L181.19 124.79z" fill="#000"/>
<path d="M193.40 116.90L196.81 122.79L189.99 122.79z" fill="#000"/>
<path d="M202.30 116.90L205.71 122.79L198.89 122.79z" fill="#000"/>
<path d="M197.60 120.40L201.01 126.29L194.19 126.29z" fill="#000"/>
<path d="M191.10 125.40L194.51 131.29L187.69 131.29z" fill="#000"/>
<line x1="167.00" y1="110.90" x2="219.20" y2="110.90" stroke="#000" stroke-width="1.8"/>
<text x="129.50" y="30.40" font-family="'Liberation Serif', serif" font-size="14" textLength="46.80" lengthAdjust="spacingAndGlyphs"><tspan font-style="italic">P</tspan> &lt; .001</text>
<path d="M142.70 47.70V38.60H173.10V47.70" fill="none" stroke="#222" stroke-width="1.2"/>
<text x="109.00" y="151.20" font-family="'Liberation Sans', sans-serif" font-size="10.7" textLength="22.00" lengthAdjust="spacingAndGlyphs">CpG</text>
<text x="176.50" y="151.20" font-family="'Liberation Sans', sans-serif" font-size="10.7" textLength="34.30" lengthAdjust="spacingAndGlyphs">Control</text>
<text x="125.00" y="165.00" font-family="'Liberation Sans', sans-serif" font-size="12" font-weight="bold" textLength="64.20" lengthAdjust="spacingAndGlyphs">donor cells</text>
<text x="125.00" y="179.50" font-family="'Liberation Sans', sans-serif" font-size="12" font-weight="bold" textLength="56.20" lengthAdjust="spacingAndGlyphs">(CD45.1+)</text>
<text x="0.15" y="182.70" font-family="'Liberation Sans', sans-serif" font-size="26" font-weight="bold" textLength="17.50" lengthAdjust="spacingAndGlyphs">B</text>
<text transform="translate(9.80,255.70) rotate(-90)" font-family="'Liberation Sans', sans-serif" font-size="13" font-weight="bold" text-anchor="middle" textLength="123.00" lengthAdjust="spacingAndGlyphs">Absolute number of</text>
<text transform="translate(26.20,254.50) rotate(-90)" font-family="'Liberation Sans', sans-serif" font-size="13" font-weight="bold" text-anchor="middle" textLength="111.50" lengthAdjust="spacingAndGlyphs">CD8<tspan font-size="8" dy="-5">+</tspan><tspan dy="5"> IFN&#947;</tspan><tspan font-size="8" dy="-5">+</tspan><tspan dy="5"> T cells</tspan></text>
<text transform="translate(41.80,254.00) rotate(-90)" font-family="'Liberation Sans', sans-serif" font-size="13" font-weight="bold" text-anchor="middle" textLength="64.40" lengthAdjust="spacingAndGlyphs">per spleen</text>
<line x1="77.90" y1="203.70" x2="77.90" y2="315.80" stroke="#000" stroke-width="1.7"/>
<line x1="73.90" y1="315.00" x2="245.20" y2="315.00" stroke="#000" stroke-width="1.6"/>
<line x1="73.90" y1="204.50" x2="77.90" y2="204.50" stroke="#000" stroke-width="1.3"/>
<text x="47.70" y="212.80" font-family="'Liberation Sans', sans-serif" font-size="13" textLength="12.00" lengthAdjust="spacingAndGlyphs">10</text>
<text x="64.00" y="205.00" font-family="'Liberation Sans', sans-serif" font-size="9">8</text>
<line x1="73.90" y1="226.60" x2="77.90" y2="226.60" stroke="#000" stroke-width="1.3"/>
<text x="47.70" y="234.90" font-family="'Liberation Sans', sans-serif" font-size="13" textLength="12.00" lengthAdjust="spacingAndGlyphs">10</text>
<text x="64.00" y="227.10" font-family="'Liberation Sans', sans-serif" font-size="9">7</text>
<line x1="73.90" y1="248.70" x2="77.90" y2="248.70" stroke="#000" stroke-width="1.3"/>
<text x="47.70" y="257.00" font-family="'Liberation Sans', sans-serif" font-size="13" textLength="12.00" lengthAdjust="spacingAndGlyphs">10</text>
<text x="64.00" y="249.20" font-family="'Liberation Sans', sans-serif" font-size="9">6</text>
<line x1="73.90" y1="270.80" x2="77.90" y2="270.80" stroke="#000" stroke-width="1.3"/>
<text x="47.70" y="279.10" font-family="'Liberation Sans', sans-serif" font-size="13" textLength="12.00" lengthAdjust="spacingAndGlyphs">10</text>
<text x="64.00" y="271.30" font-family="'Liberation Sans', sans-serif" font-size="9">5</text>
<line x1="73.90" y1="292.90" x2="77.90" y2="292.90" stroke="#000" stroke-width="1.3"/>
<text x="47.70" y="301.20" font-family="'Liberation Sans', sans-serif" font-size="13" textLength="12.00" lengthAdjust="spacingAndGlyphs">10</text>
<text x="64.00" y="293.40" font-family="'Liberation Sans', sans-serif" font-size="9">4</text>
<line x1="73.90" y1="315.00" x2="77.90" y2="315.00" stroke="#000" stroke-width="1.3"/>
<text x="47.70" y="323.30" font-family="'Liberation Sans', sans-serif" font-size="13" textLength="12.00" lengthAdjust="spacingAndGlyphs">10</text>
<text x="64.00" y="315.50" font-family="'Liberation Sans', sans-serif" font-size="9">3</text>
<path d="M95.15 222.35h5.10v5.10h-5.10z" fill="#000"/>
<path d="M101.65 228.25h5.10v5.10h-5.10z" fill="#000"/>
<path d="M112.65 227.15h5.10v5.10h-5.10z" fill="#000"/>
<path d="M108.45 231.15h5.10v5.10h-5.10z" fill="#000"/>
<path d="M94.85 234.65h5.10v5.10h-5.10z" fill="#000"/>
<path d="M101.65 232.95h5.10v5.10h-5.10z" fill="#000"/>
<path d="M101.65 236.65h5.10v5.10h-5.10z" fill="#000"/>
<path d="M108.45 240.35h5.10v5.10h-5.10z" fill="#000"/>
<path d="M101.65 244.35h5.10v5.10h-5.10z" fill="#000"/>
<path d="M101.65 251.65h5.10v5.10h-5.10z" fill="#000"/>
<path d="M101.65 264.45h5.10v5.10h-5.10z" fill="#000"/>
<path d="M93.21 248.51h5.58v5.58h-5.58z" fill="#fff" stroke="#000" stroke-width="1.3" stroke-linejoin="miter"/>
<path d="M112.61 255.01h5.58v5.58h-5.58z" fill="#fff" stroke="#000" stroke-width="1.3" stroke-linejoin="miter"/>
<path d="M142.90 272.64L146.27 278.45L139.53 278.45z" fill="#000"/>
<path d="M135.50 282.44L138.87 288.25L132.13 288.25z" fill="#000"/>
<path d="M141.40 284.14L144.77 289.95L138.03 289.95z" fill="#000"/>
<path d="M145.90 281.74L149.27 287.55L142.53 287.55z" fill="#000"/>
<path d="M155.40 282.84L158.77 288.65L152.03 288.65z" fill="#000"/>
<path d="M135.80 292.74L139.17 298.55L132.43 298.55z" fill="#000"/>
<path d="M142.60 294.14L145.97 299.95L139.23 299.95z" fill="#000"/>
<path d="M142.60 305.54L145.97 311.35L139.23 311.35z" fill="#000"/>
<path d="M128.50 281.72L131.23 286.43L125.77 286.43z" fill="#fff" stroke="#000" stroke-width="1.3" stroke-linejoin="miter"/>
<path d="M177.50 254.26L180.87 248.45L174.13 248.45z" fill="#000"/>
<path d="M173.80 257.66L177.17 251.85L170.43 251.85z" fill="#000"/>
<path d="M180.60 257.96L183.97 252.15L177.23 252.15z" fill="#000"/>
<path d="M190.40 253.26L193.77 247.45L187.03 247.45z" fill="#000"/>
<path d="M186.70 256.26L190.07 250.45L183.33 250.45z" fill="#000"/>
<path d="M193.40 257.26L196.77 251.45L190.03 251.45z" fill="#000"/>
<path d="M174.10 265.36L177.47 259.55L170.73 259.55z" fill="#000"/>
<path d="M180.90 266.06L184.27 260.25L177.53 260.25z" fill="#000"/>
<path d="M187.30 263.36L190.67 257.55L183.93 257.55z" fill="#000"/>
<path d="M180.60 284.36L183.97 278.55L177.23 278.55z" fill="#000"/>
<path d="M190.10 258.08L192.83 253.37L187.37 253.37z" fill="#fff" stroke="#000" stroke-width="1.3" stroke-linejoin="miter"/>
<path d="M174.50 279.38L177.23 274.67L171.77 274.67z" fill="#fff" stroke="#000" stroke-width="1.3" stroke-linejoin="miter"/>
<path d="M188.00 285.78L190.73 281.07L185.27 281.07z" fill="#fff" stroke="#000" stroke-width="1.3" stroke-linejoin="miter"/>
<path d="M225.50 242.17L228.73 245.40L225.50 248.63L222.27 245.40z" fill="#000"/>
<path d="M219.10 244.57L222.33 247.80L219.10 251.03L215.87 247.80z" fill="#000"/>
<path d="M225.50 248.57L228.73 251.80L225.50 255.03L222.27 251.80z" fill="#000"/>
<path d="M212.40 250.27L215.63 253.50L212.40 256.73L209.17 253.50z" fill="#000"/>
<path d="M219.10 252.27L222.33 255.50L219.10 258.73L215.87 255.50z" fill="#000"/>
<path d="M216.10 255.27L219.33 258.50L216.10 261.73L212.87 258.50z" fill="#000"/>
<path d="M224.50 257.97L227.73 261.20L224.50 264.43L221.27 261.20z" fill="#000"/>
<path d="M212.40 259.37L215.63 262.60L212.40 265.83L209.17 262.60z" fill="#000"/>
<path d="M218.80 260.67L222.03 263.90L218.80 267.13L215.57 263.90z" fill="#000"/>
<path d="M230.60 260.37L233.83 263.60L230.60 266.83L227.37 263.60z" fill="#000"/>
<path d="M220.80 268.22L223.58 271.00L220.80 273.78L218.02 271.00z" fill="#fff" stroke="#000" stroke-width="1.3" stroke-linejoin="miter"/>
<line x1="90.90" y1="235.20" x2="122.40" y2="235.20" stroke="#000" stroke-width="1.8"/>
<line x1="125.10" y1="287.70" x2="160.20" y2="287.70" stroke="#000" stroke-width="1.8"/>
<line x1="167.70" y1="256.60" x2="196.10" y2="256.60" stroke="#000" stroke-width="1.8"/>
<line x1="206.00" y1="254.20" x2="234.30" y2="254.20" stroke="#000" stroke-width="1.8"/>
<text x="91.50" y="204.40" font-family="'Liberation Serif', serif" font-size="14" textLength="48.10" lengthAdjust="spacingAndGlyphs"><tspan font-style="italic">P</tspan> = .003</text>
<path d="M108.50 216.50V208.30H139.00V216.50" fill="none" stroke="#222" stroke-width="1.2"/>
<text x="169.80" y="226.50" font-family="'Liberation Serif', serif" font-size="14" textLength="48.50" lengthAdjust="spacingAndGlyphs"><tspan font-style="italic">P</tspan> = .334</text>
<path d="M186.50 238.80V229.60H217.70V238.80" fill="none" stroke="#222" stroke-width="1.2"/>
<text x="95.70" y="328.90" font-family="'Liberation Sans', sans-serif" font-size="10.7" textLength="21.90" lengthAdjust="spacingAndGlyphs">CpG</text>
<text x="129.70" y="328.90" font-family="'Liberation Sans', sans-serif" font-size="10.7" textLength="34.60" lengthAdjust="spacingAndGlyphs">Control</text>
<text x="172.50" y="328.90" font-family="'Liberation Sans', sans-serif" font-size="10.7" textLength="21.90" lengthAdjust="spacingAndGlyphs">CpG</text>
<text x="206.80" y="328.90" font-family="'Liberation Sans', sans-serif" font-size="10.7" textLength="34.60" lengthAdjust="spacingAndGlyphs">Control</text>
<text x="95.70" y="341.40" font-family="'Liberation Sans', sans-serif" font-size="12" font-weight="bold" textLength="64.30" lengthAdjust="spacingAndGlyphs">donor cells</text>
<text x="178.00" y="341.40" font-family="'Liberation Sans', sans-serif" font-size="12" font-weight="bold" textLength="54.00" lengthAdjust="spacingAndGlyphs">host cells</text>
<text x="95.70" y="356.10" font-family="'Liberation Sans', sans-serif" font-size="12" font-weight="bold" textLength="56.20" lengthAdjust="spacingAndGlyphs">(CD45.1+)</text>
<text x="177.40" y="356.10" font-family="'Liberation Sans', sans-serif" font-size="12" font-weight="bold" textLength="52.00" lengthAdjust="spacingAndGlyphs">(CD45.1-)</text>
<text x="0.90" y="382.50" font-family="'Liberation Sans', sans-serif" font-size="26" font-weight="bold" textLength="17.65" lengthAdjust="spacingAndGlyphs">C</text>
<text transform="translate(9.60,450.40) rotate(-90)" font-family="'Liberation Sans', sans-serif" font-size="13" font-weight="bold" text-anchor="middle" textLength="107.20" lengthAdjust="spacingAndGlyphs">Absolute number</text>
<text transform="translate(25.00,449.90) rotate(-90)" font-family="'Liberation Sans', sans-serif" font-size="13" font-weight="bold" text-anchor="middle" textLength="119.00" lengthAdjust="spacingAndGlyphs">CD8<tspan font-size="8" dy="-5">+</tspan><tspan dy="5"> gzmB</tspan><tspan font-size="8" dy="-5">+</tspan><tspan dy="5"> T cells</tspan></text>
<text transform="translate(40.90,449.30) rotate(-90)" font-family="'Liberation Sans', sans-serif" font-size="13" font-weight="bold" text-anchor="middle" textLength="63.80" lengthAdjust="spacingAndGlyphs">per spleen</text>
<line x1="80.20" y1="391.80" x2="80.20" y2="503.80" stroke="#000" stroke-width="1.7"/>
<line x1="76.20" y1="503.00" x2="247.50" y2="503.00" stroke="#000" stroke-width="1.3"/>
<line x1="80.20" y1="503.00" x2="104.20" y2="503.00" stroke="#000" stroke-width="2.0"/>
<line x1="76.20" y1="392.60" x2="80.20" y2="392.60" stroke="#000" stroke-width="1.3"/>
<text x="54.10" y="398.60" font-family="'Liberation Sans', sans-serif" font-size="13" textLength="12.30" lengthAdjust="spacingAndGlyphs">10</text>
<text x="68.60" y="390.40" font-family="'Liberation Sans', sans-serif" font-size="9">8</text>
<line x1="76.20" y1="420.30" x2="80.20" y2="420.30" stroke="#000" stroke-width="1.3"/>
<text x="54.10" y="426.30" font-family="'Liberation Sans', sans-serif" font-size="13" textLength="12.30" lengthAdjust="spacingAndGlyphs">10</text>
<text x="68.60" y="418.10" font-family="'Liberation Sans', sans-serif" font-size="9">7</text>
<line x1="76.20" y1="447.90" x2="80.20" y2="447.90" stroke="#000" stroke-width="1.3"/>
<text x="54.10" y="453.90" font-family="'Liberation Sans', sans-serif" font-size="13" textLength="12.30" lengthAdjust="spacingAndGlyphs">10</text>
<text x="68.60" y="445.70" font-family="'Liberation Sans', sans-serif" font-size="9">6</text>
<line x1="76.20" y1="475.40" x2="80.20" y2="475.40" stroke="#000" stroke-width="1.3"/>
<text x="54.10" y="481.40" font-family="'Liberation Sans', sans-serif" font-size="13" textLength="12.30" lengthAdjust="spacingAndGlyphs">10</text>
<text x="68.60" y="473.20" font-family="'Liberation Sans', sans-serif" font-size="9">5</text>
<line x1="76.20" y1="503.00" x2="80.20" y2="503.00" stroke="#000" stroke-width="1.3"/>
<text x="54.10" y="509.00" font-family="'Liberation Sans', sans-serif" font-size="13" textLength="12.30" lengthAdjust="spacingAndGlyphs">10</text>
<text x="68.60" y="500.80" font-family="'Liberation Sans', sans-serif" font-size="9">4</text>
<path d="M103.80 414.50h4.80v4.80h-4.80z" fill="#000"/>
<path d="M93.20 419.30h4.80v4.80h-4.80z" fill="#000"/>
<path d="M98.00 423.60h4.80v4.80h-4.80z" fill="#000"/>
<path d="M103.80 423.60h4.80v4.80h-4.80z" fill="#000"/>
<path d="M110.50 421.60h4.80v4.80h-4.80z" fill="#000"/>
<path d="M97.00 430.90h4.80v4.80h-4.80z" fill="#000"/>
<path d="M110.50 432.20h4.80v4.80h-4.80z" fill="#000"/>
<path d="M103.80 435.70h4.80v4.80h-4.80z" fill="#000"/>
<path d="M103.80 448.00h4.80v4.80h-4.80z" fill="#000"/>
<path d="M103.80 467.80h4.80v4.80h-4.80z" fill="#000"/>
<path d="M144.30 458.22L147.47 463.69L141.13 463.69z" fill="#000"/>
<path d="M144.30 472.92L147.47 478.39L141.13 478.39z" fill="#000"/>
<path d="M137.60 481.72L140.77 487.19L134.43 487.19z" fill="#000"/>
<path d="M144.30 488.62L147.47 494.09L141.13 494.09z" fill="#000"/>
<path d="M144.30 496.72L147.47 502.19L141.13 502.19z" fill="#000"/>
<path d="M151.20 496.72L154.37 502.19L148.03 502.19z" fill="#000"/>
<path d="M183.10 441.78L186.27 436.31L179.93 436.31z" fill="#000"/>
<path d="M176.20 449.38L179.37 443.91L173.03 443.91z" fill="#000"/>
<path d="M186.50 449.38L189.67 443.91L183.33 443.91z" fill="#000"/>
<path d="M193.50 451.68L196.67 446.21L190.33 446.21z" fill="#000"/>
<path d="M183.10 452.38L186.27 446.91L179.93 446.91z" fill="#000"/>
<path d="M176.20 459.78L179.37 454.31L173.03 454.31z" fill="#000"/>
<path d="M190.00 460.28L193.17 454.81L186.83 454.81z" fill="#000"/>
<path d="M176.20 465.58L179.37 460.11L173.03 460.11z" fill="#000"/>
<path d="M183.10 466.28L186.27 460.81L179.93 460.81z" fill="#000"/>
<path d="M183.10 490.28L186.27 484.81L179.93 484.81z" fill="#000"/>
<path d="M214.90 449.26L217.94 452.30L214.90 455.34L211.86 452.30z" fill="#000"/>
<path d="M221.60 452.06L224.64 455.10L221.60 458.14L218.56 455.10z" fill="#000"/>
<path d="M214.90 466.56L217.94 469.60L214.90 472.64L211.86 469.60z" fill="#000"/>
<path d="M221.60 468.86L224.64 471.90L221.60 474.94L218.56 471.90z" fill="#000"/>
<path d="M228.10 466.56L231.14 469.60L228.10 472.64L225.06 469.60z" fill="#000"/>
<path d="M210.30 471.16L213.34 474.20L210.30 477.24L207.26 474.20z" fill="#000"/>
<path d="M214.90 474.66L217.94 477.70L214.90 480.74L211.86 477.70z" fill="#000"/>
<path d="M221.60 475.16L224.64 478.20L221.60 481.24L218.56 478.20z" fill="#000"/>
<path d="M228.10 473.46L231.14 476.50L228.10 479.54L225.06 476.50z" fill="#000"/>
<path d="M221.60 482.06L224.64 485.10L221.60 488.14L218.56 485.10z" fill="#000"/>
<line x1="92.70" y1="428.50" x2="118.80" y2="428.50" stroke="#000" stroke-width="1.8"/>
<line x1="131.80" y1="482.80" x2="157.70" y2="482.80" stroke="#000" stroke-width="1.8"/>
<line x1="170.40" y1="451.20" x2="198.80" y2="451.20" stroke="#000" stroke-width="1.8"/>
<line x1="208.50" y1="466.20" x2="236.60" y2="466.20" stroke="#000" stroke-width="1.8"/>
<text x="93.80" y="390.40" font-family="'Liberation Serif', serif" font-size="14" textLength="46.60" lengthAdjust="spacingAndGlyphs"><tspan font-style="italic">P</tspan> &lt; .001</text>
<path d="M110.60 401.90V393.70H141.30V401.90" fill="none" stroke="#222" stroke-width="1.2"/>
<text x="169.70" y="418.20" font-family="'Liberation Serif', serif" font-size="14" textLength="49.10" lengthAdjust="spacingAndGlyphs"><tspan font-style="italic">P</tspan> = .015</text>
<path d="M187.20 429.70V422.30H217.70V429.70" fill="none" stroke="#222" stroke-width="1.2"/>
<text x="98.00" y="516.10" font-family="'Liberation Sans', sans-serif" font-size="10.7" textLength="21.20" lengthAdjust="spacingAndGlyphs">CpG</text>
<text x="131.60" y="516.10" font-family="'Liberation Sans', sans-serif" font-size="10.7" textLength="35.00" lengthAdjust="spacingAndGlyphs">Control</text>
<text x="174.80" y="516.10" font-family="'Liberation Sans', sans-serif" font-size="10.7" textLength="21.20" lengthAdjust="spacingAndGlyphs">CpG</text>
<text x="209.00" y="516.10" font-family="'Liberation Sans', sans-serif" font-size="10.7" textLength="33.70" lengthAdjust="spacingAndGlyphs">Control</text>
<text x="101.20" y="528.70" font-family="'Liberation Sans', sans-serif" font-size="12" font-weight="bold" textLength="63.80" lengthAdjust="spacingAndGlyphs">donor cells</text>
<text x="180.70" y="528.70" font-family="'Liberation Sans', sans-serif" font-size="12" font-weight="bold" textLength="52.90" lengthAdjust="spacingAndGlyphs">host cells</text>
<text x="101.20" y="542.80" font-family="'Liberation Sans', sans-serif" font-size="12" font-weight="bold" textLength="55.60" lengthAdjust="spacingAndGlyphs">(CD45.1+)</text>
<text x="179.70" y="542.80" font-family="'Liberation Sans', sans-serif" font-size="12" font-weight="bold" textLength="52.30" lengthAdjust="spacingAndGlyphs">(CD45.1-)</text>
<text x="0.15" y="576.90" font-family="'Liberation Sans', sans-serif" font-size="26" font-weight="bold" textLength="17.50" lengthAdjust="spacingAndGlyphs">D</text>
<text transform="translate(12.00,648.60) rotate(-90)" font-family="'Liberation Sans', sans-serif" font-size="13" font-weight="bold" text-anchor="middle" textLength="122.70" lengthAdjust="spacingAndGlyphs">Absolute number of</text>
<text transform="translate(27.90,648.20) rotate(-90)" font-family="'Liberation Sans', sans-serif" font-size="13" font-weight="bold" text-anchor="middle" textLength="127.90" lengthAdjust="spacingAndGlyphs">CD8<tspan font-size="8" dy="-5">+</tspan><tspan dy="5"> CD107a</tspan><tspan font-size="8" dy="-5">+</tspan><tspan dy="5"> T cells</tspan></text>
<text transform="translate(43.75,649.20) rotate(-90)" font-family="'Liberation Sans', sans-serif" font-size="13" font-weight="bold" text-anchor="middle" textLength="62.90" lengthAdjust="spacingAndGlyphs">per spleen</text>
<line x1="80.20" y1="584.20" x2="80.20" y2="696.60" stroke="#000" stroke-width="1.7"/>
<line x1="76.20" y1="695.80" x2="246.40" y2="695.80" stroke="#000" stroke-width="1.6"/>
<line x1="76.20" y1="585.00" x2="80.20" y2="585.00" stroke="#000" stroke-width="1.3"/>
<text x="50.80" y="592.30" font-family="'Liberation Sans', sans-serif" font-size="13" textLength="13.40" lengthAdjust="spacingAndGlyphs">10</text>
<text x="66.20" y="584.70" font-family="'Liberation Sans', sans-serif" font-size="9">8</text>
<line x1="76.20" y1="612.70" x2="80.20" y2="612.70" stroke="#000" stroke-width="1.3"/>
<text x="50.80" y="620.00" font-family="'Liberation Sans', sans-serif" font-size="13" textLength="13.40" lengthAdjust="spacingAndGlyphs">10</text>
<text x="66.20" y="612.40" font-family="'Liberation Sans', sans-serif" font-size="9">7</text>
<line x1="76.20" y1="640.40" x2="80.20" y2="640.40" stroke="#000" stroke-width="1.3"/>
<text x="50.80" y="647.70" font-family="'Liberation Sans', sans-serif" font-size="13" textLength="13.40" lengthAdjust="spacingAndGlyphs">10</text>
<text x="66.20" y="640.10" font-family="'Liberation Sans', sans-serif" font-size="9">6</text>
<line x1="76.20" y1="668.10" x2="80.20" y2="668.10" stroke="#000" stroke-width="1.3"/>
<text x="50.80" y="675.40" font-family="'Liberation Sans', sans-serif" font-size="13" textLength="13.40" lengthAdjust="spacingAndGlyphs">10</text>
<text x="66.20" y="667.80" font-family="'Liberation Sans', sans-serif" font-size="9">5</text>
<line x1="76.20" y1="695.80" x2="80.20" y2="695.80" stroke="#000" stroke-width="1.3"/>
<text x="50.80" y="703.10" font-family="'Liberation Sans', sans-serif" font-size="13" textLength="13.40" lengthAdjust="spacingAndGlyphs">10</text>
<text x="66.20" y="695.50" font-family="'Liberation Sans', sans-serif" font-size="9">4</text>
<path d="M96.80 614.10h5.20v5.20h-5.20z" fill="#000"/>
<path d="M103.60 610.90h5.20v5.20h-5.20z" fill="#000"/>
<path d="M110.10 608.60h5.20v5.20h-5.20z" fill="#000"/>
<path d="M109.70 618.60h5.20v5.20h-5.20z" fill="#000"/>
<path d="M103.60 653.20h5.20v5.20h-5.20z" fill="#000"/>
<path d="M137.40 651.48L140.83 657.41L133.97 657.41z" fill="#000"/>
<path d="M143.60 651.48L147.03 657.41L140.17 657.41z" fill="#000"/>
<path d="M137.10 670.48L140.53 676.41L133.67 676.41z" fill="#000"/>
<path d="M144.20 671.88L147.63 677.81L140.77 677.81z" fill="#000"/>
<path d="M151.00 670.18L154.43 676.11L147.57 676.11z" fill="#000"/>
<path d="M189.40 640.82L192.83 634.89L185.97 634.89z" fill="#000"/>
<path d="M182.20 646.12L185.63 640.19L178.77 640.19z" fill="#000"/>
<path d="M175.50 649.92L178.93 643.99L172.07 643.99z" fill="#000"/>
<path d="M182.70 654.52L186.13 648.59L179.27 648.59z" fill="#000"/>
<path d="M182.20 678.12L185.63 672.19L178.77 672.19z" fill="#000"/>
<path d="M214.40 645.91L217.69 649.20L214.40 652.49L211.11 649.20z" fill="#000"/>
<path d="M221.20 645.91L224.49 649.20L221.20 652.49L217.91 649.20z" fill="#000"/>
<path d="M214.40 653.61L217.69 656.90L214.40 660.19L211.11 656.90z" fill="#000"/>
<path d="M221.20 655.51L224.49 658.80L221.20 662.09L217.91 658.80z" fill="#000"/>
<path d="M227.90 654.11L231.19 657.40L227.90 660.69L224.61 657.40z" fill="#000"/>
<line x1="93.10" y1="616.90" x2="121.50" y2="616.90" stroke="#000" stroke-width="1.8"/>
<line x1="131.00" y1="662.30" x2="159.90" y2="662.30" stroke="#000" stroke-width="1.8"/>
<line x1="169.50" y1="646.10" x2="197.60" y2="646.10" stroke="#000" stroke-width="1.8"/>
<line x1="207.90" y1="652.80" x2="236.00" y2="652.80" stroke="#000" stroke-width="1.8"/>
<text x="97.90" y="590.40" font-family="'Liberation Serif', serif" font-size="14" textLength="48.00" lengthAdjust="spacingAndGlyphs"><tspan font-style="italic">P</tspan> = .008</text>
<path d="M108.50 602.90V595.20H139.60V602.90" fill="none" stroke="#222" stroke-width="1.2"/>
<text x="170.70" y="618.50" font-family="'Liberation Serif', serif" font-size="14" textLength="47.60" lengthAdjust="spacingAndGlyphs"><tspan font-style="italic">P</tspan> = .218</text>
<path d="M186.80 630.50V620.90H218.00V630.50" fill="none" stroke="#222" stroke-width="1.2"/>
<text x="98.00" y="708.90" font-family="'Liberation Sans', sans-serif" font-size="10.7" textLength="21.20" lengthAdjust="spacingAndGlyphs">CpG</text>
<text x="131.60" y="708.90" font-family="'Liberation Sans', sans-serif" font-size="10.7" textLength="35.00" lengthAdjust="spacingAndGlyphs">Control</text>
<text x="174.10" y="708.90" font-family="'Liberation Sans', sans-serif" font-size="10.7" textLength="21.90" lengthAdjust="spacingAndGlyphs">CpG</text>
<text x="208.10" y="708.90" font-family="'Liberation Sans', sans-serif" font-size="10.7" textLength="34.60" lengthAdjust="spacingAndGlyphs">Control</text>
<text x="101.20" y="722.10" font-family="'Liberation Sans', sans-serif" font-size="12" font-weight="bold" textLength="63.10" lengthAdjust="spacingAndGlyphs">donor cells</text>
<text x="179.70" y="722.10" font-family="'Liberation Sans', sans-serif" font-size="12" font-weight="bold" textLength="53.90" lengthAdjust="spacingAndGlyphs">host cells</text>
<text x="100.60" y="736.10" font-family="'Liberation Sans', sans-serif" font-size="12" font-weight="bold" textLength="56.20" lengthAdjust="spacingAndGlyphs">(CD45.1+)</text>
<text x="179.00" y="736.10" font-family="'Liberation Sans', sans-serif" font-size="12" font-weight="bold" textLength="53.00" lengthAdjust="spacingAndGlyphs">(CD45.1-)</text>
<line x1="296.00" y1="24.00" x2="390.00" y2="24.00" stroke="#5e5e5e" stroke-width="1.0"/>
<line x1="390.00" y1="24.00" x2="390.00" y2="118.50" stroke="#5e5e5e" stroke-width="1.0"/>
<line x1="296.00" y1="84.00" x2="390.00" y2="84.00" stroke="#5e5e5e" stroke-width="1.0"/>
<line x1="296.00" y1="23.50" x2="296.00" y2="119.20" stroke="#000" stroke-width="1.6"/>
<line x1="295.30" y1="118.50" x2="390.50" y2="118.50" stroke="#000" stroke-width="1.5"/>
<path d="M293.50 118.50H296.00M294.70 111.39H296.00M294.70 107.23H296.00M294.70 104.28H296.00M294.70 101.99H296.00M294.70 100.12H296.00M294.70 98.53H296.00M294.70 97.16H296.00M294.70 95.96H296.00M293.50 94.88H296.00M294.70 87.76H296.00M294.70 83.60H296.00M294.70 80.65H296.00M294.70 78.36H296.00M294.70 76.49H296.00M294.70 74.91H296.00M294.70 73.54H296.00M294.70 72.33H296.00M293.50 71.25H296.00M294.70 64.14H296.00M294.70 59.98H296.00M294.70 57.03H296.00M294.70 54.74H296.00M294.70 52.87H296.00M294.70 51.28H296.00M294.70 49.91H296.00M294.70 48.71H296.00M293.50 47.62H296.00M294.70 40.51H296.00M294.70 36.35H296.00M294.70 33.40H296.00M294.70 31.11H296.00M294.70 29.24H296.00M294.70 27.66H296.00M294.70 26.29H296.00M294.70 25.08H296.00M293.50 24.00H296.00" stroke="#000" stroke-width="0.7" fill="none"/>
<path d="M296.00 118.50V121.00M300.70 118.50V119.80M305.40 118.50V119.80M310.10 118.50V119.80M314.80 118.50V121.00M319.50 118.50V119.80M324.20 118.50V119.80M328.90 118.50V119.80M333.60 118.50V121.00M338.30 118.50V119.80M343.00 118.50V119.80M347.70 118.50V119.80M352.40 118.50V121.00M357.10 118.50V119.80M361.80 118.50V119.80M366.50 118.50V119.80M371.20 118.50V121.00M375.90 118.50V119.80M380.60 118.50V119.80M385.30 118.50V119.80M390.00 118.50V121.00" stroke="#000" stroke-width="0.7" fill="none"/>
<text transform="translate(291.70,118.50) rotate(-90)" font-family="'Liberation Sans', sans-serif" font-size="5.6" text-anchor="middle" fill="#000">10<tspan font-size="4.1" dy="-2.2">0</tspan></text>
<text transform="translate(291.70,94.88) rotate(-90)" font-family="'Liberation Sans', sans-serif" font-size="5.6" text-anchor="middle" fill="#000">10<tspan font-size="4.1" dy="-2.2">1</tspan></text>
<text transform="translate(291.70,71.25) rotate(-90)" font-family="'Liberation Sans', sans-serif" font-size="5.6" text-anchor="middle" fill="#000">10<tspan font-size="4.1" dy="-2.2">2</tspan></text>
<text transform="translate(291.70,47.62) rotate(-90)" font-family="'Liberation Sans', sans-serif" font-size="5.6" text-anchor="middle" fill="#000">10<tspan font-size="4.1" dy="-2.2">3</tspan></text>
<text transform="translate(291.70,24.00) rotate(-90)" font-family="'Liberation Sans', sans-serif" font-size="5.6" text-anchor="middle" fill="#000">10<tspan font-size="4.1" dy="-2.2">4</tspan></text>
<text transform="translate(284.80,71.25) rotate(-90)" font-family="'Liberation Sans', sans-serif" font-size="4.6" text-anchor="middle" fill="#222">CD45.1 FITC</text>
<text x="296.00" y="127.50" font-family="'Liberation Sans', sans-serif" font-size="4.8" text-anchor="middle" fill="#111">0</text>
<text x="314.80" y="127.50" font-family="'Liberation Sans', sans-serif" font-size="4.8" text-anchor="middle" fill="#111">200</text>
<text x="333.60" y="127.50" font-family="'Liberation Sans', sans-serif" font-size="4.8" text-anchor="middle" fill="#111">400</text>
<text x="352.40" y="127.50" font-family="'Liberation Sans', sans-serif" font-size="4.8" text-anchor="middle" fill="#111">600</text>
<text x="371.20" y="127.50" font-family="'Liberation Sans', sans-serif" font-size="4.8" text-anchor="middle" fill="#111">800</text>
<text x="390.00" y="127.50" font-family="'Liberation Sans', sans-serif" font-size="4.8" text-anchor="middle" fill="#111">1000</text>
<text x="329.40" y="133.40" font-family="'Liberation Sans', sans-serif" font-size="4.7" font-weight="bold" textLength="26.90" lengthAdjust="spacingAndGlyphs" fill="#333">FSC-Height</text>
<text x="329.75" y="10.00" font-family="'Liberation Sans', sans-serif" font-size="10.6" textLength="21.75" lengthAdjust="spacingAndGlyphs">CpG</text>
<text x="310.00" y="22.10" font-family="'Liberation Sans', sans-serif" font-size="4.9" font-weight="bold" textLength="54.60" lengthAdjust="spacingAndGlyphs" fill="#333">U132/5 (CpG 1668) .022</text>
<text x="304.70" y="41.05" font-family="'Liberation Serif', serif" font-size="13.6" font-weight="bold" textLength="42.55" lengthAdjust="spacingAndGlyphs">70.68%</text>
<line x1="413.50" y1="24.00" x2="508.50" y2="24.00" stroke="#5e5e5e" stroke-width="1.0"/>
<line x1="508.50" y1="24.00" x2="508.50" y2="118.50" stroke="#5e5e5e" stroke-width="1.0"/>
<line x1="413.50" y1="84.00" x2="508.50" y2="84.00" stroke="#5e5e5e" stroke-width="1.0"/>
<line x1="413.50" y1="23.50" x2="413.50" y2="119.20" stroke="#000" stroke-width="1.6"/>
<line x1="412.80" y1="118.50" x2="509.00" y2="118.50" stroke="#000" stroke-width="1.5"/>
<path d="M411.00 118.50H413.50M412.20 111.39H413.50M412.20 107.23H413.50M412.20 104.28H413.50M412.20 101.99H413.50M412.20 100.12H413.50M412.20 98.53H413.50M412.20 97.16H413.50M412.20 95.96H413.50M411.00 94.88H413.50M412.20 87.76H413.50M412.20 83.60H413.50M412.20 80.65H413.50M412.20 78.36H413.50M412.20 76.49H413.50M412.20 74.91H413.50M412.20 73.54H413.50M412.20 72.33H413.50M411.00 71.25H413.50M412.20 64.14H413.50M412.20 59.98H413.50M412.20 57.03H413.50M412.20 54.74H413.50M412.20 52.87H413.50M412.20 51.28H413.50M412.20 49.91H413.50M412.20 48.71H413.50M411.00 47.62H413.50M412.20 40.51H413.50M412.20 36.35H413.50M412.20 33.40H413.50M412.20 31.11H413.50M412.20 29.24H413.50M412.20 27.66H413.50M412.20 26.29H413.50M412.20 25.08H413.50M411.00 24.00H413.50" stroke="#000" stroke-width="0.7" fill="none"/>
<path d="M413.50 118.50V121.00M418.25 118.50V119.80M423.00 118.50V119.80M427.75 118.50V119.80M432.50 118.50V121.00M437.25 118.50V119.80M442.00 118.50V119.80M446.75 118.50V119.80M451.50 118.50V121.00M456.25 118.50V119.80M461.00 118.50V119.80M465.75 118.50V119.80M470.50 118.50V121.00M475.25 118.50V119.80M480.00 118.50V119.80M484.75 118.50V119.80M489.50 118.50V121.00M494.25 118.50V119.80M499.00 118.50V119.80M503.75 118.50V119.80M508.50 118.50V121.00" stroke="#000" stroke-width="0.7" fill="none"/>
<text transform="translate(409.20,118.50) rotate(-90)" font-family="'Liberation Sans', sans-serif" font-size="5.6" text-anchor="middle" fill="#000">10<tspan font-size="4.1" dy="-2.2">0</tspan></text>
<text transform="translate(409.20,94.88) rotate(-90)" font-family="'Liberation Sans', sans-serif" font-size="5.6" text-anchor="middle" fill="#000">10<tspan font-size="4.1" dy="-2.2">1</tspan></text>
<text transform="translate(409.20,71.25) rotate(-90)" font-family="'Liberation Sans', sans-serif" font-size="5.6" text-anchor="middle" fill="#000">10<tspan font-size="4.1" dy="-2.2">2</tspan></text>
<text transform="translate(409.20,47.62) rotate(-90)" font-family="'Liberation Sans', sans-serif" font-size="5.6" text-anchor="middle" fill="#000">10<tspan font-size="4.1" dy="-2.2">3</tspan></text>
<text transform="translate(409.20,24.00) rotate(-90)" font-family="'Liberation Sans', sans-serif" font-size="5.6" text-anchor="middle" fill="#000">10<tspan font-size="4.1" dy="-2.2">4</tspan></text>
<text transform="translate(402.30,71.25) rotate(-90)" font-family="'Liberation Sans', sans-serif" font-size="4.6" text-anchor="middle" fill="#222">CD45.1 FITC</text>
<text x="413.50" y="127.50" font-family="'Liberation Sans', sans-serif" font-size="4.8" text-anchor="middle" fill="#111">0</text>
<text x="432.50" y="127.50" font-family="'Liberation Sans', sans-serif" font-size="4.8" text-anchor="middle" fill="#111">200</text>
<text x="451.50" y="127.50" font-family="'Liberation Sans', sans-serif" font-size="4.8" text-anchor="middle" fill="#111">400</text>
<text x="470.50" y="127.50" font-family="'Liberation Sans', sans-serif" font-size="4.8" text-anchor="middle" fill="#111">600</text>
<text x="489.50" y="127.50" font-family="'Liberation Sans', sans-serif" font-size="4.8" text-anchor="middle" fill="#111">800</text>
<text x="508.50" y="127.50" font-family="'Liberation Sans', sans-serif" font-size="4.8" text-anchor="middle" fill="#111">1000</text>
<text x="447.50" y="133.40" font-family="'Liberation Sans', sans-serif" font-size="4.7" font-weight="bold" textLength="26.50" lengthAdjust="spacingAndGlyphs" fill="#333">FSC-Height</text>
<text x="442.40" y="9.60" font-family="'Liberation Sans', sans-serif" font-size="10.6" textLength="33.80" lengthAdjust="spacingAndGlyphs">Control</text>
<text x="425.00" y="22.10" font-family="'Liberation Sans', sans-serif" font-size="4.9" font-weight="bold" textLength="61.25" lengthAdjust="spacingAndGlyphs" fill="#333">U132/8 (CpG-control) .025</text>
<text x="419.70" y="41.30" font-family="'Liberation Serif', serif" font-size="13.6" font-weight="bold" textLength="42.55" lengthAdjust="spacingAndGlyphs">15.74%</text>
<line x1="292.30" y1="194.80" x2="387.00" y2="194.80" stroke="#5e5e5e" stroke-width="1.0"/>
<line x1="387.00" y1="194.80" x2="387.00" y2="290.20" stroke="#5e5e5e" stroke-width="1.0"/>
<line x1="329.90" y1="194.80" x2="329.90" y2="290.20" stroke="#5e5e5e" stroke-width="1.0"/>
<line x1="292.30" y1="243.60" x2="387.00" y2="243.60" stroke="#5e5e5e" stroke-width="1.0"/>
<line x1="292.30" y1="194.30" x2="292.30" y2="290.90" stroke="#000" stroke-width="1.6"/>
<line x1="291.60" y1="290.20" x2="387.50" y2="290.20" stroke="#000" stroke-width="1.5"/>
<path d="M289.80 290.20H292.30M291.00 283.02H292.30M291.00 278.82H292.30M291.00 275.84H292.30M291.00 273.53H292.30M291.00 271.64H292.30M291.00 270.04H292.30M291.00 268.66H292.30M291.00 267.44H292.30M289.80 266.35H292.30M291.00 259.17H292.30M291.00 254.97H292.30M291.00 251.99H292.30M291.00 249.68H292.30M291.00 247.79H292.30M291.00 246.19H292.30M291.00 244.81H292.30M291.00 243.59H292.30M289.80 242.50H292.30M291.00 235.32H292.30M291.00 231.12H292.30M291.00 228.14H292.30M291.00 225.83H292.30M291.00 223.94H292.30M291.00 222.34H292.30M291.00 220.96H292.30M291.00 219.74H292.30M289.80 218.65H292.30M291.00 211.47H292.30M291.00 207.27H292.30M291.00 204.29H292.30M291.00 201.98H292.30M291.00 200.09H292.30M291.00 198.49H292.30M291.00 197.11H292.30M291.00 195.89H292.30M289.80 194.80H292.30" stroke="#000" stroke-width="0.7" fill="none"/>
<path d="M292.30 290.20V292.70M299.43 290.20V291.50M303.60 290.20V291.50M306.55 290.20V291.50M308.85 290.20V291.50M310.72 290.20V291.50M312.31 290.20V291.50M313.68 290.20V291.50M314.89 290.20V291.50M315.98 290.20V292.70M323.10 290.20V291.50M327.27 290.20V291.50M330.23 290.20V291.50M332.52 290.20V291.50M334.40 290.20V291.50M335.98 290.20V291.50M337.36 290.20V291.50M338.57 290.20V291.50M339.65 290.20V292.70M346.78 290.20V291.50M350.95 290.20V291.50M353.90 290.20V291.50M356.20 290.20V291.50M358.07 290.20V291.50M359.66 290.20V291.50M361.03 290.20V291.50M362.24 290.20V291.50M363.32 290.20V292.70M370.45 290.20V291.50M374.62 290.20V291.50M377.58 290.20V291.50M379.87 290.20V291.50M381.75 290.20V291.50M383.33 290.20V291.50M384.71 290.20V291.50M385.92 290.20V291.50M387.00 290.20V292.70" stroke="#000" stroke-width="0.7" fill="none"/>
<text transform="translate(288.00,290.20) rotate(-90)" font-family="'Liberation Sans', sans-serif" font-size="5.6" text-anchor="middle" fill="#000">10<tspan font-size="4.1" dy="-2.2">0</tspan></text>
<text transform="translate(288.00,266.35) rotate(-90)" font-family="'Liberation Sans', sans-serif" font-size="5.6" text-anchor="middle" fill="#000">10<tspan font-size="4.1" dy="-2.2">1</tspan></text>
<text transform="translate(288.00,242.50) rotate(-90)" font-family="'Liberation Sans', sans-serif" font-size="5.6" text-anchor="middle" fill="#000">10<tspan font-size="4.1" dy="-2.2">2</tspan></text>
<text transform="translate(288.00,218.65) rotate(-90)" font-family="'Liberation Sans', sans-serif" font-size="5.6" text-anchor="middle" fill="#000">10<tspan font-size="4.1" dy="-2.2">3</tspan></text>
<text transform="translate(288.00,194.80) rotate(-90)" font-family="'Liberation Sans', sans-serif" font-size="5.6" text-anchor="middle" fill="#000">10<tspan font-size="4.1" dy="-2.2">4</tspan></text>
<text transform="translate(281.10,242.50) rotate(-90)" font-family="'Liberation Sans', sans-serif" font-size="4.6" text-anchor="middle" fill="#222">CD45.1 APC</text>
<text x="289.80" y="298.70" font-family="'Liberation Sans', sans-serif" font-size="5.8" fill="#000">10<tspan font-size="4.3" dy="-2.4">0</tspan></text>
<text x="313.48" y="298.70" font-family="'Liberation Sans', sans-serif" font-size="5.8" fill="#000">10<tspan font-size="4.3" dy="-2.4">1</tspan></text>
<text x="337.15" y="298.70" font-family="'Liberation Sans', sans-serif" font-size="5.8" fill="#000">10<tspan font-size="4.3" dy="-2.4">2</tspan></text>
<text x="360.82" y="298.70" font-family="'Liberation Sans', sans-serif" font-size="5.8" fill="#000">10<tspan font-size="4.3" dy="-2.4">3</tspan></text>
<text x="384.50" y="298.70" font-family="'Liberation Sans', sans-serif" font-size="5.8" fill="#000">10<tspan font-size="4.3" dy="-2.4">4</tspan></text>
<text x="315.20" y="304.30" font-family="'Liberation Sans', sans-serif" font-size="4.7" font-weight="bold" textLength="49.00" lengthAdjust="spacingAndGlyphs" fill="#333">IFNg BIO + SAV FITC</text>
<text x="329.90" y="184.00" font-family="'Liberation Sans', sans-serif" font-size="10.6" textLength="21.50" lengthAdjust="spacingAndGlyphs">CpG</text>
<text x="307.50" y="192.60" font-family="'Liberation Sans', sans-serif" font-size="4.9" font-weight="bold" textLength="51.20" lengthAdjust="spacingAndGlyphs" fill="#333">U131/3 CpG1668.007</text>
<text x="347.60" y="211.20" font-family="'Liberation Serif', serif" font-size="13.6" font-weight="bold" textLength="36.30" lengthAdjust="spacingAndGlyphs">7.93%</text>
<text x="348.90" y="285.20" font-family="'Liberation Serif', serif" font-size="13.6" font-weight="bold" textLength="36.30" lengthAdjust="spacingAndGlyphs">2.20%</text>
<line x1="404.60" y1="194.80" x2="499.20" y2="194.80" stroke="#5e5e5e" stroke-width="1.0"/>
<line x1="499.20" y1="194.80" x2="499.20" y2="290.20" stroke="#5e5e5e" stroke-width="1.0"/>
<line x1="444.80" y1="194.80" x2="444.80" y2="290.20" stroke="#5e5e5e" stroke-width="1.0"/>
<line x1="404.60" y1="250.50" x2="499.20" y2="250.50" stroke="#5e5e5e" stroke-width="1.0"/>
<line x1="404.60" y1="194.30" x2="404.60" y2="290.90" stroke="#000" stroke-width="1.6"/>
<line x1="403.90" y1="290.20" x2="499.70" y2="290.20" stroke="#000" stroke-width="1.5"/>
<path d="M402.10 290.20H404.60M403.30 283.02H404.60M403.30 278.82H404.60M403.30 275.84H404.60M403.30 273.53H404.60M403.30 271.64H404.60M403.30 270.04H404.60M403.30 268.66H404.60M403.30 267.44H404.60M402.10 266.35H404.60M403.30 259.17H404.60M403.30 254.97H404.60M403.30 251.99H404.60M403.30 249.68H404.60M403.30 247.79H404.60M403.30 246.19H404.60M403.30 244.81H404.60M403.30 243.59H404.60M402.10 242.50H404.60M403.30 235.32H404.60M403.30 231.12H404.60M403.30 228.14H404.60M403.30 225.83H404.60M403.30 223.94H404.60M403.30 222.34H404.60M403.30 220.96H404.60M403.30 219.74H404.60M402.10 218.65H404.60M403.30 211.47H404.60M403.30 207.27H404.60M403.30 204.29H404.60M403.30 201.98H404.60M403.30 200.09H404.60M403.30 198.49H404.60M403.30 197.11H404.60M403.30 195.89H404.60M402.10 194.80H404.60" stroke="#000" stroke-width="0.7" fill="none"/>
<path d="M404.60 290.20V292.70M411.72 290.20V291.50M415.88 290.20V291.50M418.84 290.20V291.50M421.13 290.20V291.50M423.00 290.20V291.50M424.59 290.20V291.50M425.96 290.20V291.50M427.17 290.20V291.50M428.25 290.20V292.70M435.37 290.20V291.50M439.53 290.20V291.50M442.49 290.20V291.50M444.78 290.20V291.50M446.65 290.20V291.50M448.24 290.20V291.50M449.61 290.20V291.50M450.82 290.20V291.50M451.90 290.20V292.70M459.02 290.20V291.50M463.18 290.20V291.50M466.14 290.20V291.50M468.43 290.20V291.50M470.30 290.20V291.50M471.89 290.20V291.50M473.26 290.20V291.50M474.47 290.20V291.50M475.55 290.20V292.70M482.67 290.20V291.50M486.83 290.20V291.50M489.79 290.20V291.50M492.08 290.20V291.50M493.95 290.20V291.50M495.54 290.20V291.50M496.91 290.20V291.50M498.12 290.20V291.50M499.20 290.20V292.70" stroke="#000" stroke-width="0.7" fill="none"/>
<text transform="translate(400.30,290.20) rotate(-90)" font-family="'Liberation Sans', sans-serif" font-size="5.6" text-anchor="middle" fill="#000">10<tspan font-size="4.1" dy="-2.2">0</tspan></text>
<text transform="translate(400.30,266.35) rotate(-90)" font-family="'Liberation Sans', sans-serif" font-size="5.6" text-anchor="middle" fill="#000">10<tspan font-size="4.1" dy="-2.2">1</tspan></text>
<text transform="translate(400.30,242.50) rotate(-90)" font-family="'Liberation Sans', sans-serif" font-size="5.6" text-anchor="middle" fill="#000">10<tspan font-size="4.1" dy="-2.2">2</tspan></text>
<text transform="translate(400.30,218.65) rotate(-90)" font-family="'Liberation Sans', sans-serif" font-size="5.6" text-anchor="middle" fill="#000">10<tspan font-size="4.1" dy="-2.2">3</tspan></text>
<text transform="translate(400.30,194.80) rotate(-90)" font-family="'Liberation Sans', sans-serif" font-size="5.6" text-anchor="middle" fill="#000">10<tspan font-size="4.1" dy="-2.2">4</tspan></text>
<text transform="translate(393.40,242.50) rotate(-90)" font-family="'Liberation Sans', sans-serif" font-size="4.6" text-anchor="middle" fill="#222">CD45.1 APC</text>
<text x="402.10" y="298.70" font-family="'Liberation Sans', sans-serif" font-size="5.8" fill="#000">10<tspan font-size="4.3" dy="-2.4">0</tspan></text>
<text x="425.75" y="298.70" font-family="'Liberation Sans', sans-serif" font-size="5.8" fill="#000">10<tspan font-size="4.3" dy="-2.4">1</tspan></text>
<text x="449.40" y="298.70" font-family="'Liberation Sans', sans-serif" font-size="5.8" fill="#000">10<tspan font-size="4.3" dy="-2.4">2</tspan></text>
<text x="473.05" y="298.70" font-family="'Liberation Sans', sans-serif" font-size="5.8" fill="#000">10<tspan font-size="4.3" dy="-2.4">3</tspan></text>
<text x="496.70" y="298.70" font-family="'Liberation Sans', sans-serif" font-size="5.8" fill="#000">10<tspan font-size="4.3" dy="-2.4">4</tspan></text>
<text x="420.50" y="303.50" font-family="'Liberation Sans', sans-serif" font-size="4.7" font-weight="bold" textLength="62.00" lengthAdjust="spacingAndGlyphs" fill="#333">IFNgamma Bio + SAV FITC</text>
<text x="441.40" y="184.00" font-family="'Liberation Sans', sans-serif" font-size="10.6" textLength="34.70" lengthAdjust="spacingAndGlyphs">Control</text>
<text x="416.30" y="192.60" font-family="'Liberation Sans', sans-serif" font-size="4.9" font-weight="bold" textLength="60.70" lengthAdjust="spacingAndGlyphs" fill="#333">U132/7 (CpG-control).012</text>
<text x="463.20" y="211.20" font-family="'Liberation Serif', serif" font-size="13.6" font-weight="bold" textLength="36.30" lengthAdjust="spacingAndGlyphs">0.29%</text>
<text x="461.30" y="285.20" font-family="'Liberation Serif', serif" font-size="13.6" font-weight="bold" textLength="36.80" lengthAdjust="spacingAndGlyphs">1.84%</text>
<line x1="293.80" y1="386.90" x2="385.60" y2="386.90" stroke="#5e5e5e" stroke-width="1.0"/>
<line x1="385.60" y1="386.90" x2="385.60" y2="479.50" stroke="#5e5e5e" stroke-width="1.0"/>
<line x1="330.40" y1="386.90" x2="330.40" y2="479.50" stroke="#5e5e5e" stroke-width="1.0"/>
<line x1="293.80" y1="436.20" x2="385.60" y2="436.20" stroke="#5e5e5e" stroke-width="1.0"/>
<line x1="293.80" y1="386.40" x2="293.80" y2="480.20" stroke="#000" stroke-width="1.6"/>
<line x1="293.10" y1="479.50" x2="386.10" y2="479.50" stroke="#000" stroke-width="1.5"/>
<path d="M291.30 479.50H293.80M292.50 472.53H293.80M292.50 468.45H293.80M292.50 465.56H293.80M292.50 463.32H293.80M292.50 461.49H293.80M292.50 459.94H293.80M292.50 458.59H293.80M292.50 457.41H293.80M291.30 456.35H293.80M292.50 449.38H293.80M292.50 445.30H293.80M292.50 442.41H293.80M292.50 440.17H293.80M292.50 438.34H293.80M292.50 436.79H293.80M292.50 435.44H293.80M292.50 434.26H293.80M291.30 433.20H293.80M292.50 426.23H293.80M292.50 422.15H293.80M292.50 419.26H293.80M292.50 417.02H293.80M292.50 415.19H293.80M292.50 413.64H293.80M292.50 412.29H293.80M292.50 411.11H293.80M291.30 410.05H293.80M292.50 403.08H293.80M292.50 399.00H293.80M292.50 396.11H293.80M292.50 393.87H293.80M292.50 392.04H293.80M292.50 390.49H293.80M292.50 389.14H293.80M292.50 387.96H293.80M291.30 386.90H293.80" stroke="#000" stroke-width="0.7" fill="none"/>
<path d="M293.80 479.50V482.00M300.71 479.50V480.80M304.75 479.50V480.80M307.62 479.50V480.80M309.84 479.50V480.80M311.66 479.50V480.80M313.20 479.50V480.80M314.53 479.50V480.80M315.70 479.50V480.80M316.75 479.50V482.00M323.66 479.50V480.80M327.70 479.50V480.80M330.57 479.50V480.80M332.79 479.50V480.80M334.61 479.50V480.80M336.15 479.50V480.80M337.48 479.50V480.80M338.65 479.50V480.80M339.70 479.50V482.00M346.61 479.50V480.80M350.65 479.50V480.80M353.52 479.50V480.80M355.74 479.50V480.80M357.56 479.50V480.80M359.10 479.50V480.80M360.43 479.50V480.80M361.60 479.50V480.80M362.65 479.50V482.00M369.56 479.50V480.80M373.60 479.50V480.80M376.47 479.50V480.80M378.69 479.50V480.80M380.51 479.50V480.80M382.05 479.50V480.80M383.38 479.50V480.80M384.55 479.50V480.80M385.60 479.50V482.00" stroke="#000" stroke-width="0.7" fill="none"/>
<text transform="translate(289.50,479.50) rotate(-90)" font-family="'Liberation Sans', sans-serif" font-size="5.6" text-anchor="middle" fill="#000">10<tspan font-size="4.1" dy="-2.2">0</tspan></text>
<text transform="translate(289.50,456.35) rotate(-90)" font-family="'Liberation Sans', sans-serif" font-size="5.6" text-anchor="middle" fill="#000">10<tspan font-size="4.1" dy="-2.2">1</tspan></text>
<text transform="translate(289.50,433.20) rotate(-90)" font-family="'Liberation Sans', sans-serif" font-size="5.6" text-anchor="middle" fill="#000">10<tspan font-size="4.1" dy="-2.2">2</tspan></text>
<text transform="translate(289.50,410.05) rotate(-90)" font-family="'Liberation Sans', sans-serif" font-size="5.6" text-anchor="middle" fill="#000">10<tspan font-size="4.1" dy="-2.2">3</tspan></text>
<text transform="translate(289.50,386.90) rotate(-90)" font-family="'Liberation Sans', sans-serif" font-size="5.6" text-anchor="middle" fill="#000">10<tspan font-size="4.1" dy="-2.2">4</tspan></text>
<text transform="translate(282.60,433.20) rotate(-90)" font-family="'Liberation Sans', sans-serif" font-size="4.6" text-anchor="middle" fill="#222">CD45.1 FITC</text>
<text x="291.30" y="488.00" font-family="'Liberation Sans', sans-serif" font-size="5.8" fill="#000">10<tspan font-size="4.3" dy="-2.4">0</tspan></text>
<text x="314.25" y="488.00" font-family="'Liberation Sans', sans-serif" font-size="5.8" fill="#000">10<tspan font-size="4.3" dy="-2.4">1</tspan></text>
<text x="337.20" y="488.00" font-family="'Liberation Sans', sans-serif" font-size="5.8" fill="#000">10<tspan font-size="4.3" dy="-2.4">2</tspan></text>
<text x="360.15" y="488.00" font-family="'Liberation Sans', sans-serif" font-size="5.8" fill="#000">10<tspan font-size="4.3" dy="-2.4">3</tspan></text>
<text x="383.10" y="488.00" font-family="'Liberation Sans', sans-serif" font-size="5.8" fill="#000">10<tspan font-size="4.3" dy="-2.4">4</tspan></text>
<text x="326.40" y="492.50" font-family="'Liberation Sans', sans-serif" font-size="4.7" font-weight="bold" textLength="17.50" lengthAdjust="spacingAndGlyphs" fill="#333">gzmB APC</text>
<text x="322.90" y="377.40" font-family="'Liberation Sans', sans-serif" font-size="10.6" textLength="22.80" lengthAdjust="spacingAndGlyphs">CpG</text>
<text x="309.70" y="385.10" font-family="'Liberation Sans', sans-serif" font-size="4.9" font-weight="bold" textLength="49.00" lengthAdjust="spacingAndGlyphs" fill="#333">U131/5 CpG1668.038</text>
<text x="346.20" y="400.60" font-family="'Liberation Serif', serif" font-size="13.6" font-weight="bold" textLength="37.70" lengthAdjust="spacingAndGlyphs">8.81%</text>
<text x="347.10" y="474.40" font-family="'Liberation Serif', serif" font-size="13.6" font-weight="bold" textLength="36.80" lengthAdjust="spacingAndGlyphs">4.32%</text>
<line x1="410.20" y1="386.90" x2="503.30" y2="386.90" stroke="#5e5e5e" stroke-width="1.0"/>
<line x1="503.30" y1="386.90" x2="503.30" y2="480.30" stroke="#5e5e5e" stroke-width="1.0"/>
<line x1="410.20" y1="436.20" x2="503.30" y2="436.20" stroke="#5e5e5e" stroke-width="1.0"/>
<line x1="410.20" y1="386.40" x2="410.20" y2="481.00" stroke="#000" stroke-width="1.6"/>
<line x1="409.50" y1="480.30" x2="503.80" y2="480.30" stroke="#000" stroke-width="1.5"/>
<path d="M407.70 480.30H410.20M408.90 473.27H410.20M408.90 469.16H410.20M408.90 466.24H410.20M408.90 463.98H410.20M408.90 462.13H410.20M408.90 460.57H410.20M408.90 459.21H410.20M408.90 458.02H410.20M407.70 456.95H410.20M408.90 449.92H410.20M408.90 445.81H410.20M408.90 442.89H410.20M408.90 440.63H410.20M408.90 438.78H410.20M408.90 437.22H410.20M408.90 435.86H410.20M408.90 434.67H410.20M407.70 433.60H410.20M408.90 426.57H410.20M408.90 422.46H410.20M408.90 419.54H410.20M408.90 417.28H410.20M408.90 415.43H410.20M408.90 413.87H410.20M408.90 412.51H410.20M408.90 411.32H410.20M407.70 410.25H410.20M408.90 403.22H410.20M408.90 399.11H410.20M408.90 396.19H410.20M408.90 393.93H410.20M408.90 392.08H410.20M408.90 390.52H410.20M408.90 389.16H410.20M408.90 387.97H410.20M407.70 386.90H410.20" stroke="#000" stroke-width="0.7" fill="none"/>
<path d="M410.20 480.30V482.80M417.21 480.30V481.60M421.30 480.30V481.60M424.21 480.30V481.60M426.47 480.30V481.60M428.31 480.30V481.60M429.87 480.30V481.60M431.22 480.30V481.60M432.41 480.30V481.60M433.48 480.30V482.80M440.48 480.30V481.60M444.58 480.30V481.60M447.49 480.30V481.60M449.74 480.30V481.60M451.59 480.30V481.60M453.14 480.30V481.60M454.49 480.30V481.60M455.68 480.30V481.60M456.75 480.30V482.80M463.76 480.30V481.60M467.85 480.30V481.60M470.76 480.30V481.60M473.02 480.30V481.60M474.86 480.30V481.60M476.42 480.30V481.60M477.77 480.30V481.60M478.96 480.30V481.60M480.02 480.30V482.80M487.03 480.30V481.60M491.13 480.30V481.60M494.04 480.30V481.60M496.29 480.30V481.60M498.14 480.30V481.60M499.69 480.30V481.60M501.04 480.30V481.60M502.23 480.30V481.60M503.30 480.30V482.80" stroke="#000" stroke-width="0.7" fill="none"/>
<text transform="translate(405.90,480.30) rotate(-90)" font-family="'Liberation Sans', sans-serif" font-size="5.6" text-anchor="middle" fill="#000">10<tspan font-size="4.1" dy="-2.2">0</tspan></text>
<text transform="translate(405.90,456.95) rotate(-90)" font-family="'Liberation Sans', sans-serif" font-size="5.6" text-anchor="middle" fill="#000">10<tspan font-size="4.1" dy="-2.2">1</tspan></text>
<text transform="translate(405.90,433.60) rotate(-90)" font-family="'Liberation Sans', sans-serif" font-size="5.6" text-anchor="middle" fill="#000">10<tspan font-size="4.1" dy="-2.2">2</tspan></text>
<text transform="translate(405.90,410.25) rotate(-90)" font-family="'Liberation Sans', sans-serif" font-size="5.6" text-anchor="middle" fill="#000">10<tspan font-size="4.1" dy="-2.2">3</tspan></text>
<text transform="translate(405.90,386.90) rotate(-90)" font-family="'Liberation Sans', sans-serif" font-size="5.6" text-anchor="middle" fill="#000">10<tspan font-size="4.1" dy="-2.2">4</tspan></text>
<text transform="translate(399.00,433.60) rotate(-90)" font-family="'Liberation Sans', sans-serif" font-size="4.6" text-anchor="middle" fill="#222">CD45.1 FITC</text>
<text x="407.70" y="488.80" font-family="'Liberation Sans', sans-serif" font-size="5.8" fill="#000">10<tspan font-size="4.3" dy="-2.4">0</tspan></text>
<text x="430.98" y="488.80" font-family="'Liberation Sans', sans-serif" font-size="5.8" fill="#000">10<tspan font-size="4.3" dy="-2.4">1</tspan></text>
<text x="454.25" y="488.80" font-family="'Liberation Sans', sans-serif" font-size="5.8" fill="#000">10<tspan font-size="4.3" dy="-2.4">2</tspan></text>
<text x="477.52" y="488.80" font-family="'Liberation Sans', sans-serif" font-size="5.8" fill="#000">10<tspan font-size="4.3" dy="-2.4">3</tspan></text>
<text x="500.80" y="488.80" font-family="'Liberation Sans', sans-serif" font-size="5.8" fill="#000">10<tspan font-size="4.3" dy="-2.4">4</tspan></text>
<text x="444.60" y="492.50" font-family="'Liberation Sans', sans-serif" font-size="4.7" font-weight="bold" textLength="16.20" lengthAdjust="spacingAndGlyphs" fill="#333">gzmB APC</text>
<text x="435.20" y="376.70" font-family="'Liberation Sans', sans-serif" font-size="10.6" textLength="34.20" lengthAdjust="spacingAndGlyphs">Control</text>
<text x="425.80" y="385.10" font-family="'Liberation Sans', sans-serif" font-size="4.9" font-weight="bold" textLength="44.40" lengthAdjust="spacingAndGlyphs" fill="#333">U131/7 CpG-control.046</text>
<text x="462.60" y="400.60" font-family="'Liberation Serif', serif" font-size="13.6" font-weight="bold" textLength="36.90" lengthAdjust="spacingAndGlyphs">0.59%</text>
<text x="462.60" y="475.20" font-family="'Liberation Serif', serif" font-size="13.6" font-weight="bold" textLength="36.90" lengthAdjust="spacingAndGlyphs">0.83%</text>
<line x1="295.40" y1="581.00" x2="388.30" y2="581.00" stroke="#5e5e5e" stroke-width="1.0"/>
<line x1="388.30" y1="581.00" x2="388.30" y2="673.50" stroke="#5e5e5e" stroke-width="1.0"/>
<line x1="330.10" y1="581.00" x2="330.10" y2="673.50" stroke="#5e5e5e" stroke-width="1.0"/>
<line x1="295.40" y1="631.20" x2="388.30" y2="631.20" stroke="#5e5e5e" stroke-width="1.0"/>
<line x1="295.40" y1="580.50" x2="295.40" y2="674.20" stroke="#000" stroke-width="1.6"/>
<line x1="294.70" y1="673.50" x2="388.80" y2="673.50" stroke="#000" stroke-width="1.5"/>
<path d="M292.90 673.50H295.40M294.10 666.54H295.40M294.10 662.47H295.40M294.10 659.58H295.40M294.10 657.34H295.40M294.10 655.51H295.40M294.10 653.96H295.40M294.10 652.62H295.40M294.10 651.43H295.40M292.90 650.38H295.40M294.10 643.41H295.40M294.10 639.34H295.40M294.10 636.45H295.40M294.10 634.21H295.40M294.10 632.38H295.40M294.10 630.83H295.40M294.10 629.49H295.40M294.10 628.31H295.40M292.90 627.25H295.40M294.10 620.29H295.40M294.10 616.22H295.40M294.10 613.33H295.40M294.10 611.09H295.40M294.10 609.26H295.40M294.10 607.71H295.40M294.10 606.37H295.40M294.10 605.18H295.40M292.90 604.12H295.40M294.10 597.16H295.40M294.10 593.09H295.40M294.10 590.20H295.40M294.10 587.96H295.40M294.10 586.13H295.40M294.10 584.58H295.40M294.10 583.24H295.40M294.10 582.06H295.40M292.90 581.00H295.40" stroke="#000" stroke-width="0.7" fill="none"/>
<path d="M295.40 673.50V676.00M302.39 673.50V674.80M306.48 673.50V674.80M309.38 673.50V674.80M311.63 673.50V674.80M313.47 673.50V674.80M315.03 673.50V674.80M316.37 673.50V674.80M317.56 673.50V674.80M318.62 673.50V676.00M325.62 673.50V674.80M329.71 673.50V674.80M332.61 673.50V674.80M334.86 673.50V674.80M336.70 673.50V674.80M338.25 673.50V674.80M339.60 673.50V674.80M340.79 673.50V674.80M341.85 673.50V676.00M348.84 673.50V674.80M352.93 673.50V674.80M355.83 673.50V674.80M358.08 673.50V674.80M359.92 673.50V674.80M361.48 673.50V674.80M362.82 673.50V674.80M364.01 673.50V674.80M365.07 673.50V676.00M372.07 673.50V674.80M376.16 673.50V674.80M379.06 673.50V674.80M381.31 673.50V674.80M383.15 673.50V674.80M384.70 673.50V674.80M386.05 673.50V674.80M387.24 673.50V674.80M388.30 673.50V676.00" stroke="#000" stroke-width="0.7" fill="none"/>
<text transform="translate(291.10,673.50) rotate(-90)" font-family="'Liberation Sans', sans-serif" font-size="5.6" text-anchor="middle" fill="#000">10<tspan font-size="4.1" dy="-2.2">0</tspan></text>
<text transform="translate(291.10,650.38) rotate(-90)" font-family="'Liberation Sans', sans-serif" font-size="5.6" text-anchor="middle" fill="#000">10<tspan font-size="4.1" dy="-2.2">1</tspan></text>
<text transform="translate(291.10,627.25) rotate(-90)" font-family="'Liberation Sans', sans-serif" font-size="5.6" text-anchor="middle" fill="#000">10<tspan font-size="4.1" dy="-2.2">2</tspan></text>
<text transform="translate(291.10,604.12) rotate(-90)" font-family="'Liberation Sans', sans-serif" font-size="5.6" text-anchor="middle" fill="#000">10<tspan font-size="4.1" dy="-2.2">3</tspan></text>
<text transform="translate(291.10,581.00) rotate(-90)" font-family="'Liberation Sans', sans-serif" font-size="5.6" text-anchor="middle" fill="#000">10<tspan font-size="4.1" dy="-2.2">4</tspan></text>
<text transform="translate(284.20,627.25) rotate(-90)" font-family="'Liberation Sans', sans-serif" font-size="4.6" text-anchor="middle" fill="#222">CD45.1 APC</text>
<text x="292.90" y="682.00" font-family="'Liberation Sans', sans-serif" font-size="5.8" fill="#000">10<tspan font-size="4.3" dy="-2.4">0</tspan></text>
<text x="316.12" y="682.00" font-family="'Liberation Sans', sans-serif" font-size="5.8" fill="#000">10<tspan font-size="4.3" dy="-2.4">1</tspan></text>
<text x="339.35" y="682.00" font-family="'Liberation Sans', sans-serif" font-size="5.8" fill="#000">10<tspan font-size="4.3" dy="-2.4">2</tspan></text>
<text x="362.57" y="682.00" font-family="'Liberation Sans', sans-serif" font-size="5.8" fill="#000">10<tspan font-size="4.3" dy="-2.4">3</tspan></text>
<text x="385.80" y="682.00" font-family="'Liberation Sans', sans-serif" font-size="5.8" fill="#000">10<tspan font-size="4.3" dy="-2.4">4</tspan></text>
<text x="327.70" y="686.80" font-family="'Liberation Sans', sans-serif" font-size="4.7" font-weight="bold" textLength="28.80" lengthAdjust="spacingAndGlyphs" fill="#333">CD107a FITC</text>
<text x="322.30" y="571.00" font-family="'Liberation Sans', sans-serif" font-size="10.6" textLength="22.40" lengthAdjust="spacingAndGlyphs">CpG</text>
<text x="312.90" y="579.10" font-family="'Liberation Sans', sans-serif" font-size="4.9" font-weight="bold" textLength="47.90" lengthAdjust="spacingAndGlyphs" fill="#333">U131/5 CpG1668.023</text>
<text x="347.60" y="597.10" font-family="'Liberation Serif', serif" font-size="13.6" font-weight="bold" textLength="43.00" lengthAdjust="spacingAndGlyphs">12.98%</text>
<text x="347.60" y="666.00" font-family="'Liberation Serif', serif" font-size="13.6" font-weight="bold" textLength="34.90" lengthAdjust="spacingAndGlyphs">4.08%</text>
<line x1="411.80" y1="581.00" x2="504.30" y2="581.00" stroke="#5e5e5e" stroke-width="1.0"/>
<line x1="504.30" y1="581.00" x2="504.30" y2="674.30" stroke="#5e5e5e" stroke-width="1.0"/>
<line x1="445.30" y1="581.00" x2="445.30" y2="674.30" stroke="#5e5e5e" stroke-width="1.0"/>
<line x1="411.80" y1="632.30" x2="504.30" y2="632.30" stroke="#5e5e5e" stroke-width="1.0"/>
<line x1="411.80" y1="580.50" x2="411.80" y2="675.00" stroke="#000" stroke-width="1.6"/>
<line x1="411.10" y1="674.30" x2="504.80" y2="674.30" stroke="#000" stroke-width="1.5"/>
<path d="M409.30 674.30H411.80M410.50 667.28H411.80M410.50 663.17H411.80M410.50 660.26H411.80M410.50 658.00H411.80M410.50 656.15H411.80M410.50 654.59H411.80M410.50 653.24H411.80M410.50 652.04H411.80M409.30 650.97H411.80M410.50 643.95H411.80M410.50 639.85H411.80M410.50 636.93H411.80M410.50 634.67H411.80M410.50 632.82H411.80M410.50 631.26H411.80M410.50 629.91H411.80M410.50 628.72H411.80M409.30 627.65H411.80M410.50 620.63H411.80M410.50 616.52H411.80M410.50 613.61H411.80M410.50 611.35H411.80M410.50 609.50H411.80M410.50 607.94H411.80M410.50 606.59H411.80M410.50 605.39H411.80M409.30 604.33H411.80M410.50 597.30H411.80M410.50 593.20H411.80M410.50 590.28H411.80M410.50 588.02H411.80M410.50 586.17H411.80M410.50 584.61H411.80M410.50 583.26H411.80M410.50 582.07H411.80M409.30 581.00H411.80" stroke="#000" stroke-width="0.7" fill="none"/>
<path d="M411.80 674.30V676.80M418.76 674.30V675.60M422.83 674.30V675.60M425.72 674.30V675.60M427.96 674.30V675.60M429.79 674.30V675.60M431.34 674.30V675.60M432.68 674.30V675.60M433.87 674.30V675.60M434.93 674.30V676.80M441.89 674.30V675.60M445.96 674.30V675.60M448.85 674.30V675.60M451.09 674.30V675.60M452.92 674.30V675.60M454.47 674.30V675.60M455.81 674.30V675.60M456.99 674.30V675.60M458.05 674.30V676.80M465.01 674.30V675.60M469.08 674.30V675.60M471.97 674.30V675.60M474.21 674.30V675.60M476.04 674.30V675.60M477.59 674.30V675.60M478.93 674.30V675.60M480.12 674.30V675.60M481.18 674.30V676.80M488.14 674.30V675.60M492.21 674.30V675.60M495.10 674.30V675.60M497.34 674.30V675.60M499.17 674.30V675.60M500.72 674.30V675.60M502.06 674.30V675.60M503.24 674.30V675.60M504.30 674.30V676.80" stroke="#000" stroke-width="0.7" fill="none"/>
<text transform="translate(407.50,674.30) rotate(-90)" font-family="'Liberation Sans', sans-serif" font-size="5.6" text-anchor="middle" fill="#000">10<tspan font-size="4.1" dy="-2.2">0</tspan></text>
<text transform="translate(407.50,650.97) rotate(-90)" font-family="'Liberation Sans', sans-serif" font-size="5.6" text-anchor="middle" fill="#000">10<tspan font-size="4.1" dy="-2.2">1</tspan></text>
<text transform="translate(407.50,627.65) rotate(-90)" font-family="'Liberation Sans', sans-serif" font-size="5.6" text-anchor="middle" fill="#000">10<tspan font-size="4.1" dy="-2.2">2</tspan></text>
<text transform="translate(407.50,604.33) rotate(-90)" font-family="'Liberation Sans', sans-serif" font-size="5.6" text-anchor="middle" fill="#000">10<tspan font-size="4.1" dy="-2.2">3</tspan></text>
<text transform="translate(407.50,581.00) rotate(-90)" font-family="'Liberation Sans', sans-serif" font-size="5.6" text-anchor="middle" fill="#000">10<tspan font-size="4.1" dy="-2.2">4</tspan></text>
<text transform="translate(400.60,627.65) rotate(-90)" font-family="'Liberation Sans', sans-serif" font-size="4.6" text-anchor="middle" fill="#222">CD45.1 APC</text>
<text x="409.30" y="682.80" font-family="'Liberation Sans', sans-serif" font-size="5.8" fill="#000">10<tspan font-size="4.3" dy="-2.4">0</tspan></text>
<text x="432.43" y="682.80" font-family="'Liberation Sans', sans-serif" font-size="5.8" fill="#000">10<tspan font-size="4.3" dy="-2.4">1</tspan></text>
<text x="455.55" y="682.80" font-family="'Liberation Sans', sans-serif" font-size="5.8" fill="#000">10<tspan font-size="4.3" dy="-2.4">2</tspan></text>
<text x="478.68" y="682.80" font-family="'Liberation Sans', sans-serif" font-size="5.8" fill="#000">10<tspan font-size="4.3" dy="-2.4">3</tspan></text>
<text x="501.80" y="682.80" font-family="'Liberation Sans', sans-serif" font-size="5.8" fill="#000">10<tspan font-size="4.3" dy="-2.4">4</tspan></text>
<text x="444.10" y="687.50" font-family="'Liberation Sans', sans-serif" font-size="4.7" font-weight="bold" textLength="28.80" lengthAdjust="spacingAndGlyphs" fill="#333">CD107a FITC</text>
<text x="435.20" y="571.00" font-family="'Liberation Sans', sans-serif" font-size="10.6" textLength="34.20" lengthAdjust="spacingAndGlyphs">Control</text>
<text x="424.40" y="579.10" font-family="'Liberation Sans', sans-serif" font-size="4.9" font-weight="bold" textLength="49.30" lengthAdjust="spacingAndGlyphs" fill="#333">U131/8 CpG-control.026</text>
<text x="465.30" y="597.10" font-family="'Liberation Serif', serif" font-size="13.6" font-weight="bold" textLength="36.90" lengthAdjust="spacingAndGlyphs">3.44%</text>
<text x="466.40" y="666.00" font-family="'Liberation Serif', serif" font-size="13.6" font-weight="bold" textLength="35.80" lengthAdjust="spacingAndGlyphs">1.11%</text>
<path d="M268.30 8.20L271.70 15.30L264.90 15.30z" fill="#000"/>
<line x1="268.30" y1="14.80" x2="268.30" y2="40.20" stroke="#000" stroke-width="1.6"/>
<text transform="translate(272.00,69.20) rotate(-90)" font-family="'Liberation Serif', serif" font-size="16.5" text-anchor="middle" textLength="56.30" lengthAdjust="spacingAndGlyphs">CD 45.1</text>
<line x1="268.30" y1="105.00" x2="268.30" y2="137.30" stroke="#000" stroke-width="1.6"/>
<line x1="270.80" y1="142.40" x2="373.80" y2="142.40" stroke="#000" stroke-width="1.6"/>
<text x="378.60" y="148.70" font-family="'Liberation Serif', serif" font-size="15.5" textLength="27.20" lengthAdjust="spacingAndGlyphs">FSC</text>
<line x1="412.80" y1="142.40" x2="504.50" y2="142.40" stroke="#000" stroke-width="1.6"/>
<path d="M512.00 142.40L504.00 138.80L504.00 146.00z" fill="#000"/>
<path d="M269.60 180.10L273.00 187.40L266.20 187.40z" fill="#000"/>
<line x1="269.60" y1="186.90" x2="269.60" y2="211.50" stroke="#000" stroke-width="1.6"/>
<text transform="translate(275.10,240.00) rotate(-90)" font-family="'Liberation Serif', serif" font-size="16.5" text-anchor="middle" textLength="57.00" lengthAdjust="spacingAndGlyphs">CD 45.1</text>
<line x1="269.60" y1="270.00" x2="269.60" y2="305.60" stroke="#000" stroke-width="1.6"/>
<line x1="271.25" y1="312.30" x2="373.75" y2="312.30" stroke="#000" stroke-width="1.6"/>
<text x="380.90" y="317.90" font-family="'Liberation Serif', serif" font-size="15.5" textLength="32.40" lengthAdjust="spacingAndGlyphs">IFN<tspan font-style="italic">&#947;</tspan></text>
<line x1="413.30" y1="312.30" x2="508.40" y2="312.30" stroke="#000" stroke-width="1.6"/>
<path d="M515.10 312.30L507.90 308.70L507.90 315.90z" fill="#000"/>
<path d="M269.50 364.70L272.90 371.70L266.10 371.70z" fill="#000"/>
<line x1="269.50" y1="371.20" x2="269.50" y2="396.90" stroke="#000" stroke-width="1.6"/>
<text transform="translate(275.50,423.90) rotate(-90)" font-family="'Liberation Serif', serif" font-size="16.5" text-anchor="middle" textLength="52.90" lengthAdjust="spacingAndGlyphs">CD 45.1</text>
<line x1="269.50" y1="453.70" x2="269.50" y2="494.70" stroke="#000" stroke-width="1.6"/>
<line x1="268.20" y1="499.20" x2="371.30" y2="499.20" stroke="#000" stroke-width="1.6"/>
<text x="382.30" y="504.50" font-family="'Liberation Serif', serif" font-size="15.5" textLength="36.00" lengthAdjust="spacingAndGlyphs">gzmB</text>
<line x1="420.40" y1="499.20" x2="501.10" y2="499.20" stroke="#000" stroke-width="1.6"/>
<path d="M508.40 499.20L500.60 495.60L500.60 502.80z" fill="#000"/>
<path d="M267.90 560.30L271.30 568.30L264.50 568.30z" fill="#000"/>
<line x1="267.90" y1="567.80" x2="267.90" y2="593.80" stroke="#000" stroke-width="1.6"/>
<text transform="translate(274.90,620.50) rotate(-90)" font-family="'Liberation Serif', serif" font-size="16.5" text-anchor="middle" textLength="50.90" lengthAdjust="spacingAndGlyphs">CD 45.1</text>
<line x1="267.90" y1="653.50" x2="267.90" y2="690.40" stroke="#000" stroke-width="1.6"/>
<line x1="270.00" y1="692.00" x2="359.00" y2="692.00" stroke="#000" stroke-width="1.6"/>
<text x="362.90" y="698.00" font-family="'Liberation Serif', serif" font-size="16" textLength="51.60" lengthAdjust="spacingAndGlyphs">CD107a</text>
<line x1="418.90" y1="692.00" x2="513.80" y2="692.00" stroke="#000" stroke-width="1.6"/>
<path d="M520.00 692.00L513.30 688.40L513.30 695.60z" fill="#000"/>
</svg>
</body></html>
